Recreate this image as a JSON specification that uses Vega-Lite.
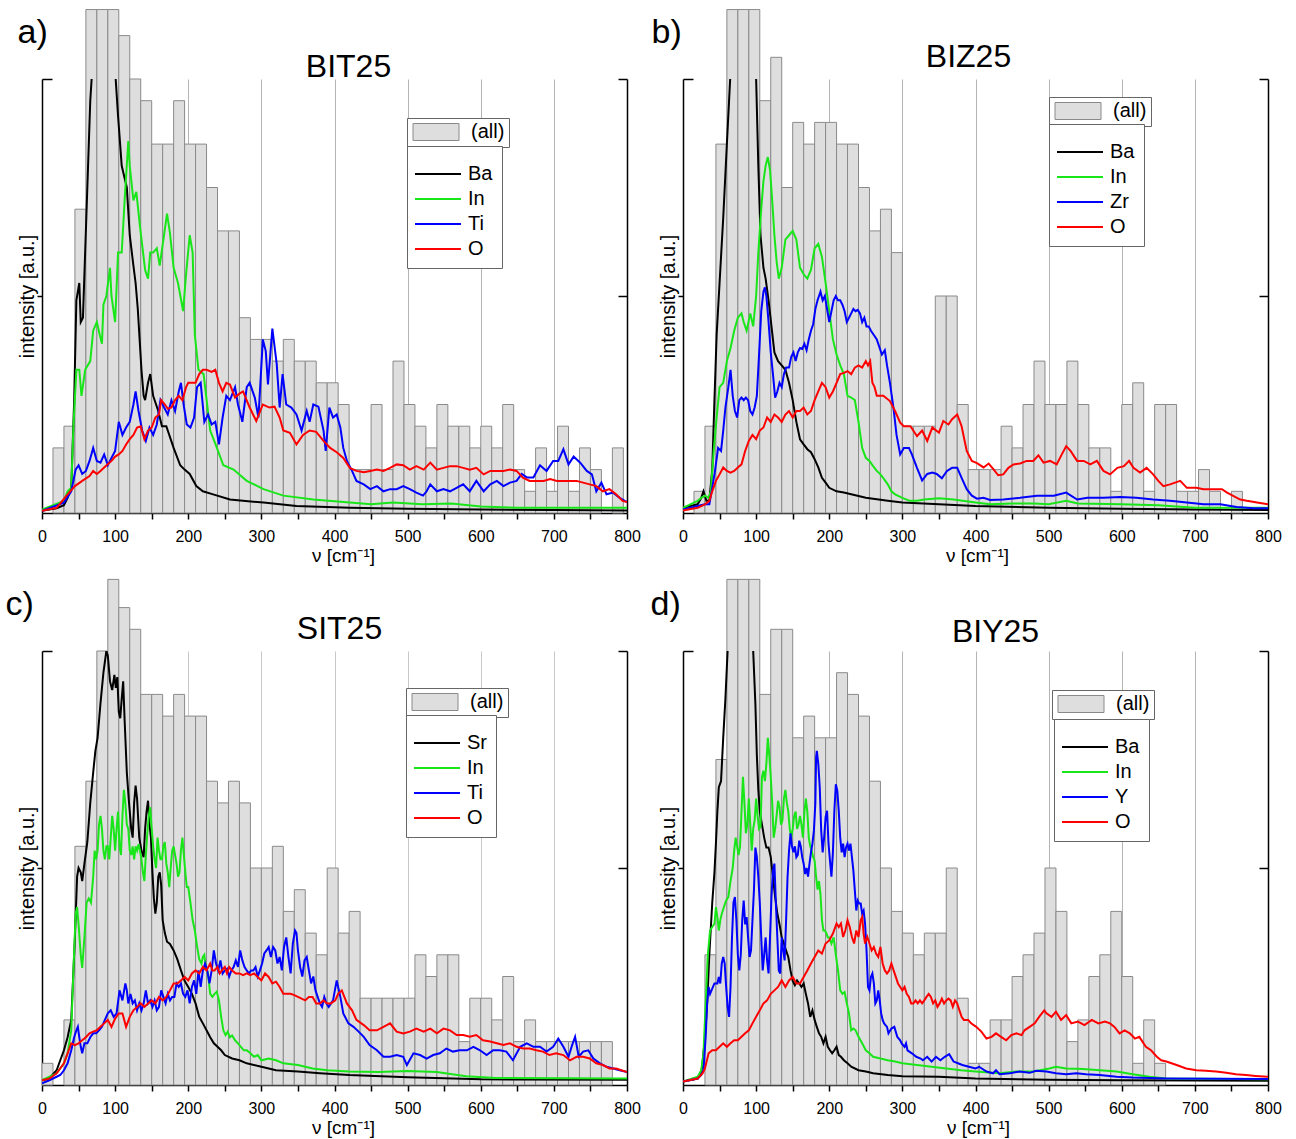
{
"$schema": "https://vega.github.io/schema/vega-lite/v6.json",
"background": "white",
"padding": {"left": 5, "top": 9, "right": 5, "bottom": 5},
"config": {"font": "Liberation Sans", "view": {"stroke": null}},
"datasets": {
"ba": [{"nu0":15,"nu1":30,"n":3},{"nu0":30,"nu1":45,"n":4},{"nu0":45,"nu1":60,"n":14},{"nu0":60,"nu1":75,"n":23.2},{"nu0":75,"nu1":90,"n":23.2},{"nu0":90,"nu1":105,"n":23.2},{"nu0":105,"nu1":120,"n":22},{"nu0":120,"nu1":135,"n":20},{"nu0":135,"nu1":150,"n":19},{"nu0":150,"nu1":165,"n":17},{"nu0":165,"nu1":180,"n":17},{"nu0":180,"nu1":195,"n":19},{"nu0":195,"nu1":210,"n":17},{"nu0":210,"nu1":225,"n":17},{"nu0":225,"nu1":240,"n":15},{"nu0":240,"nu1":255,"n":13},{"nu0":255,"nu1":270,"n":13},{"nu0":270,"nu1":285,"n":9},{"nu0":285,"nu1":300,"n":8},{"nu0":300,"nu1":315,"n":8},{"nu0":315,"nu1":330,"n":7},{"nu0":330,"nu1":345,"n":8},{"nu0":345,"nu1":360,"n":7},{"nu0":360,"nu1":375,"n":7},{"nu0":375,"nu1":390,"n":6},{"nu0":390,"nu1":405,"n":6},{"nu0":405,"nu1":420,"n":5},{"nu0":420,"nu1":435,"n":2},{"nu0":435,"nu1":450,"n":2},{"nu0":450,"nu1":465,"n":5},{"nu0":465,"nu1":480,"n":2},{"nu0":480,"nu1":495,"n":7},{"nu0":495,"nu1":510,"n":5},{"nu0":510,"nu1":525,"n":4},{"nu0":525,"nu1":540,"n":3},{"nu0":540,"nu1":555,"n":5},{"nu0":555,"nu1":570,"n":4},{"nu0":570,"nu1":585,"n":4},{"nu0":585,"nu1":600,"n":3},{"nu0":600,"nu1":615,"n":4},{"nu0":615,"nu1":630,"n":3},{"nu0":630,"nu1":645,"n":5},{"nu0":645,"nu1":660,"n":2},{"nu0":660,"nu1":675,"n":1},{"nu0":675,"nu1":690,"n":3},{"nu0":690,"nu1":705,"n":1},{"nu0":705,"nu1":720,"n":4},{"nu0":720,"nu1":735,"n":1},{"nu0":735,"nu1":750,"n":3},{"nu0":750,"nu1":765,"n":2},{"nu0":780,"nu1":795,"n":3}],
"bb": [{"nu0":15,"nu1":30,"n":1},{"nu0":30,"nu1":45,"n":4},{"nu0":45,"nu1":60,"n":17},{"nu0":60,"nu1":75,"n":23.2},{"nu0":75,"nu1":90,"n":23.2},{"nu0":90,"nu1":105,"n":23.2},{"nu0":105,"nu1":120,"n":19},{"nu0":120,"nu1":135,"n":21},{"nu0":135,"nu1":150,"n":15},{"nu0":150,"nu1":165,"n":18},{"nu0":165,"nu1":180,"n":17},{"nu0":180,"nu1":195,"n":18},{"nu0":195,"nu1":210,"n":18},{"nu0":210,"nu1":225,"n":17},{"nu0":225,"nu1":240,"n":17},{"nu0":240,"nu1":255,"n":15},{"nu0":255,"nu1":270,"n":13},{"nu0":270,"nu1":285,"n":14},{"nu0":285,"nu1":300,"n":12},{"nu0":300,"nu1":315,"n":4},{"nu0":315,"nu1":330,"n":4},{"nu0":330,"nu1":345,"n":4},{"nu0":345,"nu1":360,"n":10},{"nu0":360,"nu1":375,"n":10},{"nu0":375,"nu1":390,"n":5},{"nu0":390,"nu1":405,"n":2},{"nu0":405,"nu1":420,"n":2},{"nu0":420,"nu1":435,"n":2},{"nu0":435,"nu1":450,"n":4},{"nu0":450,"nu1":465,"n":3},{"nu0":465,"nu1":480,"n":5},{"nu0":480,"nu1":495,"n":7},{"nu0":495,"nu1":510,"n":5},{"nu0":510,"nu1":525,"n":5},{"nu0":525,"nu1":540,"n":7},{"nu0":540,"nu1":555,"n":5},{"nu0":555,"nu1":570,"n":3},{"nu0":570,"nu1":585,"n":3},{"nu0":585,"nu1":600,"n":1},{"nu0":600,"nu1":615,"n":5},{"nu0":615,"nu1":630,"n":6},{"nu0":630,"nu1":645,"n":1},{"nu0":645,"nu1":660,"n":5},{"nu0":660,"nu1":675,"n":5},{"nu0":675,"nu1":690,"n":1},{"nu0":690,"nu1":705,"n":1},{"nu0":705,"nu1":720,"n":2},{"nu0":720,"nu1":735,"n":1},{"nu0":750,"nu1":765,"n":1}],
"bc": [{"nu0":0,"nu1":15,"n":1},{"nu0":30,"nu1":45,"n":3},{"nu0":45,"nu1":60,"n":11},{"nu0":60,"nu1":75,"n":14},{"nu0":75,"nu1":90,"n":20},{"nu0":90,"nu1":105,"n":23.3},{"nu0":105,"nu1":120,"n":22},{"nu0":120,"nu1":135,"n":21},{"nu0":135,"nu1":150,"n":18},{"nu0":150,"nu1":165,"n":18},{"nu0":165,"nu1":180,"n":17},{"nu0":180,"nu1":195,"n":18},{"nu0":195,"nu1":210,"n":17},{"nu0":210,"nu1":225,"n":17},{"nu0":225,"nu1":240,"n":14},{"nu0":240,"nu1":255,"n":13},{"nu0":255,"nu1":270,"n":14},{"nu0":270,"nu1":285,"n":13},{"nu0":285,"nu1":300,"n":10},{"nu0":300,"nu1":315,"n":10},{"nu0":315,"nu1":330,"n":11},{"nu0":330,"nu1":345,"n":8},{"nu0":345,"nu1":360,"n":9},{"nu0":360,"nu1":375,"n":7},{"nu0":375,"nu1":390,"n":6},{"nu0":390,"nu1":405,"n":10},{"nu0":405,"nu1":420,"n":7},{"nu0":420,"nu1":435,"n":8},{"nu0":435,"nu1":450,"n":4},{"nu0":450,"nu1":465,"n":4},{"nu0":465,"nu1":480,"n":4},{"nu0":480,"nu1":495,"n":4},{"nu0":495,"nu1":510,"n":4},{"nu0":510,"nu1":525,"n":6},{"nu0":525,"nu1":540,"n":5},{"nu0":540,"nu1":555,"n":6},{"nu0":555,"nu1":570,"n":6},{"nu0":570,"nu1":585,"n":2},{"nu0":585,"nu1":600,"n":4},{"nu0":600,"nu1":615,"n":4},{"nu0":615,"nu1":630,"n":3},{"nu0":630,"nu1":645,"n":5},{"nu0":645,"nu1":660,"n":2},{"nu0":660,"nu1":675,"n":3},{"nu0":675,"nu1":690,"n":2},{"nu0":690,"nu1":705,"n":2},{"nu0":705,"nu1":720,"n":2},{"nu0":720,"nu1":735,"n":2},{"nu0":735,"nu1":750,"n":2},{"nu0":750,"nu1":765,"n":2},{"nu0":765,"nu1":780,"n":2}],
"bd": [{"nu0":30,"nu1":45,"n":6},{"nu0":45,"nu1":60,"n":15},{"nu0":60,"nu1":75,"n":23.3},{"nu0":75,"nu1":90,"n":23.3},{"nu0":90,"nu1":105,"n":23.3},{"nu0":105,"nu1":120,"n":18},{"nu0":120,"nu1":135,"n":21},{"nu0":135,"nu1":150,"n":21},{"nu0":150,"nu1":165,"n":16},{"nu0":165,"nu1":180,"n":17},{"nu0":180,"nu1":195,"n":16},{"nu0":195,"nu1":210,"n":16},{"nu0":210,"nu1":225,"n":19},{"nu0":225,"nu1":240,"n":18},{"nu0":240,"nu1":255,"n":17},{"nu0":255,"nu1":270,"n":14},{"nu0":270,"nu1":285,"n":10},{"nu0":285,"nu1":300,"n":8},{"nu0":300,"nu1":315,"n":7},{"nu0":315,"nu1":330,"n":6},{"nu0":330,"nu1":345,"n":7},{"nu0":345,"nu1":360,"n":7},{"nu0":360,"nu1":375,"n":10},{"nu0":375,"nu1":390,"n":4},{"nu0":390,"nu1":405,"n":1},{"nu0":405,"nu1":420,"n":1},{"nu0":420,"nu1":435,"n":3},{"nu0":435,"nu1":450,"n":3},{"nu0":450,"nu1":465,"n":5},{"nu0":465,"nu1":480,"n":6},{"nu0":480,"nu1":495,"n":7},{"nu0":495,"nu1":510,"n":10},{"nu0":510,"nu1":525,"n":8},{"nu0":525,"nu1":540,"n":2},{"nu0":540,"nu1":555,"n":3},{"nu0":555,"nu1":570,"n":5},{"nu0":570,"nu1":585,"n":6},{"nu0":585,"nu1":600,"n":8},{"nu0":600,"nu1":615,"n":5},{"nu0":615,"nu1":630,"n":1},{"nu0":630,"nu1":645,"n":3},{"nu0":645,"nu1":660,"n":1}],
"la": [
{"el":"Ba","nu":0,"i":0.005},{"el":"Ba","nu":20,"i":0.011},{"el":"Ba","nu":30,"i":0.018},{"el":"Ba","nu":35,"i":0.035},{"el":"Ba","nu":40,"i":0.058},{"el":"Ba","nu":44,"i":0.26},{"el":"Ba","nu":47,"i":0.49},{"el":"Ba","nu":51,"i":0.53},{"el":"Ba","nu":53,"i":0.44},{"el":"Ba","nu":56,"i":0.45},{"el":"Ba","nu":59,"i":0.6},{"el":"Ba","nu":63,"i":0.8},{"el":"Ba","nu":66,"i":0.95},{"el":"Ba","nu":69,"i":1.03},{"el":"Ba","nu":80,"i":1.4},{"el":"Ba","nu":92,"i":1.3},{"el":"Ba","nu":100,"i":1.02},{"el":"Ba","nu":104,"i":0.915},{"el":"Ba","nu":109,"i":0.8},{"el":"Ba","nu":116,"i":0.75},{"el":"Ba","nu":120,"i":0.64},{"el":"Ba","nu":125,"i":0.57},{"el":"Ba","nu":128,"i":0.53},{"el":"Ba","nu":131,"i":0.47},{"el":"Ba","nu":136,"i":0.33},{"el":"Ba","nu":139,"i":0.27},{"el":"Ba","nu":141,"i":0.26},{"el":"Ba","nu":145,"i":0.3},{"el":"Ba","nu":148,"i":0.32},{"el":"Ba","nu":152,"i":0.27},{"el":"Ba","nu":159,"i":0.235},{"el":"Ba","nu":164,"i":0.2},{"el":"Ba","nu":170,"i":0.2},{"el":"Ba","nu":180,"i":0.15},{"el":"Ba","nu":189,"i":0.11},{"el":"Ba","nu":195,"i":0.1},{"el":"Ba","nu":202,"i":0.09},{"el":"Ba","nu":211,"i":0.062},{"el":"Ba","nu":220,"i":0.05},{"el":"Ba","nu":234,"i":0.043},{"el":"Ba","nu":257,"i":0.031},{"el":"Ba","nu":303,"i":0.024},{"el":"Ba","nu":348,"i":0.016},{"el":"Ba","nu":421,"i":0.012},{"el":"Ba","nu":500,"i":0.01},{"el":"Ba","nu":600,"i":0.008},{"el":"Ba","nu":700,"i":0.007},{"el":"Ba","nu":800,"i":0.006},
{"el":"In","nu":0,"i":0.008},{"el":"In","nu":30,"i":0.028},{"el":"In","nu":35,"i":0.05},{"el":"In","nu":40,"i":0.058},{"el":"In","nu":43,"i":0.2},{"el":"In","nu":47,"i":0.33},{"el":"In","nu":51,"i":0.33},{"el":"In","nu":54,"i":0.27},{"el":"In","nu":59,"i":0.33},{"el":"In","nu":66,"i":0.35},{"el":"In","nu":70,"i":0.42},{"el":"In","nu":75,"i":0.44},{"el":"In","nu":79,"i":0.41},{"el":"In","nu":82,"i":0.39},{"el":"In","nu":84,"i":0.48},{"el":"In","nu":88,"i":0.5},{"el":"In","nu":93,"i":0.565},{"el":"In","nu":95,"i":0.5},{"el":"In","nu":100,"i":0.44},{"el":"In","nu":104,"i":0.6},{"el":"In","nu":109,"i":0.6},{"el":"In","nu":113,"i":0.72},{"el":"In","nu":118,"i":0.857},{"el":"In","nu":120,"i":0.8},{"el":"In","nu":125,"i":0.72},{"el":"In","nu":129,"i":0.74},{"el":"In","nu":134,"i":0.66},{"el":"In","nu":141,"i":0.56},{"el":"In","nu":145,"i":0.54},{"el":"In","nu":148,"i":0.6},{"el":"In","nu":152,"i":0.6},{"el":"In","nu":157,"i":0.61},{"el":"In","nu":161,"i":0.57},{"el":"In","nu":166,"i":0.63},{"el":"In","nu":171,"i":0.69},{"el":"In","nu":175,"i":0.645},{"el":"In","nu":180,"i":0.565},{"el":"In","nu":186,"i":0.53},{"el":"In","nu":193,"i":0.465},{"el":"In","nu":197,"i":0.55},{"el":"In","nu":202,"i":0.64},{"el":"In","nu":206,"i":0.6},{"el":"In","nu":209,"i":0.41},{"el":"In","nu":214,"i":0.33},{"el":"In","nu":221,"i":0.32},{"el":"In","nu":230,"i":0.19},{"el":"In","nu":237,"i":0.16},{"el":"In","nu":248,"i":0.11},{"el":"In","nu":262,"i":0.1},{"el":"In","nu":280,"i":0.074},{"el":"In","nu":303,"i":0.055},{"el":"In","nu":330,"i":0.04},{"el":"In","nu":371,"i":0.031},{"el":"In","nu":421,"i":0.024},{"el":"In","nu":450,"i":0.02},{"el":"In","nu":480,"i":0.024},{"el":"In","nu":520,"i":0.02},{"el":"In","nu":560,"i":0.022},{"el":"In","nu":600,"i":0.015},{"el":"In","nu":650,"i":0.012},{"el":"In","nu":800,"i":0.012},
{"el":"Ti","nu":0,"i":0.005},{"el":"Ti","nu":30,"i":0.024},{"el":"Ti","nu":40,"i":0.05},{"el":"Ti","nu":46,"i":0.1},{"el":"Ti","nu":50,"i":0.11},{"el":"Ti","nu":55,"i":0.09},{"el":"Ti","nu":60,"i":0.097},{"el":"Ti","nu":65,"i":0.12},{"el":"Ti","nu":70,"i":0.15},{"el":"Ti","nu":75,"i":0.12},{"el":"Ti","nu":80,"i":0.116},{"el":"Ti","nu":85,"i":0.135},{"el":"Ti","nu":90,"i":0.11},{"el":"Ti","nu":95,"i":0.127},{"el":"Ti","nu":100,"i":0.143},{"el":"Ti","nu":105,"i":0.21},{"el":"Ti","nu":110,"i":0.18},{"el":"Ti","nu":115,"i":0.197},{"el":"Ti","nu":120,"i":0.21},{"el":"Ti","nu":125,"i":0.25},{"el":"Ti","nu":128,"i":0.28},{"el":"Ti","nu":132,"i":0.235},{"el":"Ti","nu":137,"i":0.19},{"el":"Ti","nu":142,"i":0.166},{"el":"Ti","nu":147,"i":0.197},{"el":"Ti","nu":152,"i":0.18},{"el":"Ti","nu":157,"i":0.204},{"el":"Ti","nu":162,"i":0.26},{"el":"Ti","nu":167,"i":0.243},{"el":"Ti","nu":172,"i":0.227},{"el":"Ti","nu":177,"i":0.26},{"el":"Ti","nu":182,"i":0.235},{"el":"Ti","nu":187,"i":0.28},{"el":"Ti","nu":190,"i":0.3},{"el":"Ti","nu":194,"i":0.246},{"el":"Ti","nu":198,"i":0.204},{"el":"Ti","nu":203,"i":0.197},{"el":"Ti","nu":208,"i":0.22},{"el":"Ti","nu":212,"i":0.29},{"el":"Ti","nu":217,"i":0.3},{"el":"Ti","nu":222,"i":0.21},{"el":"Ti","nu":227,"i":0.227},{"el":"Ti","nu":232,"i":0.204},{"el":"Ti","nu":237,"i":0.21},{"el":"Ti","nu":242,"i":0.158},{"el":"Ti","nu":247,"i":0.22},{"el":"Ti","nu":252,"i":0.27},{"el":"Ti","nu":257,"i":0.26},{"el":"Ti","nu":264,"i":0.29},{"el":"Ti","nu":268,"i":0.25},{"el":"Ti","nu":274,"i":0.21},{"el":"Ti","nu":280,"i":0.29},{"el":"Ti","nu":284,"i":0.3},{"el":"Ti","nu":291,"i":0.266},{"el":"Ti","nu":296,"i":0.22},{"el":"Ti","nu":302,"i":0.4},{"el":"Ti","nu":306,"i":0.373},{"el":"Ti","nu":309,"i":0.296},{"el":"Ti","nu":315,"i":0.425},{"el":"Ti","nu":321,"i":0.343},{"el":"Ti","nu":325,"i":0.243},{"el":"Ti","nu":329,"i":0.32},{"el":"Ti","nu":334,"i":0.25},{"el":"Ti","nu":341,"i":0.243},{"el":"Ti","nu":348,"i":0.227},{"el":"Ti","nu":355,"i":0.19},{"el":"Ti","nu":362,"i":0.235},{"el":"Ti","nu":366,"i":0.21},{"el":"Ti","nu":371,"i":0.25},{"el":"Ti","nu":378,"i":0.245},{"el":"Ti","nu":385,"i":0.19},{"el":"Ti","nu":388,"i":0.143},{"el":"Ti","nu":393,"i":0.243},{"el":"Ti","nu":398,"i":0.22},{"el":"Ti","nu":403,"i":0.227},{"el":"Ti","nu":408,"i":0.197},{"el":"Ti","nu":412,"i":0.15},{"el":"Ti","nu":417,"i":0.12},{"el":"Ti","nu":424,"i":0.097},{"el":"Ti","nu":430,"i":0.074},{"el":"Ti","nu":440,"i":0.066},{"el":"Ti","nu":449,"i":0.055},{"el":"Ti","nu":458,"i":0.062},{"el":"Ti","nu":467,"i":0.05},{"el":"Ti","nu":476,"i":0.055},{"el":"Ti","nu":485,"i":0.055},{"el":"Ti","nu":494,"i":0.062},{"el":"Ti","nu":503,"i":0.055},{"el":"Ti","nu":512,"i":0.047},{"el":"Ti","nu":521,"i":0.04},{"el":"Ti","nu":526,"i":0.05},{"el":"Ti","nu":531,"i":0.066},{"el":"Ti","nu":540,"i":0.05},{"el":"Ti","nu":549,"i":0.055},{"el":"Ti","nu":558,"i":0.05},{"el":"Ti","nu":567,"i":0.058},{"el":"Ti","nu":576,"i":0.066},{"el":"Ti","nu":585,"i":0.05},{"el":"Ti","nu":594,"i":0.074},{"el":"Ti","nu":604,"i":0.05},{"el":"Ti","nu":613,"i":0.066},{"el":"Ti","nu":622,"i":0.074},{"el":"Ti","nu":631,"i":0.062},{"el":"Ti","nu":640,"i":0.07},{"el":"Ti","nu":649,"i":0.074},{"el":"Ti","nu":656,"i":0.09},{"el":"Ti","nu":663,"i":0.082},{"el":"Ti","nu":672,"i":0.082},{"el":"Ti","nu":681,"i":0.11},{"el":"Ti","nu":690,"i":0.097},{"el":"Ti","nu":699,"i":0.12},{"el":"Ti","nu":706,"i":0.12},{"el":"Ti","nu":713,"i":0.147},{"el":"Ti","nu":720,"i":0.112},{"el":"Ti","nu":727,"i":0.13},{"el":"Ti","nu":736,"i":0.116},{"el":"Ti","nu":745,"i":0.097},{"el":"Ti","nu":752,"i":0.089},{"el":"Ti","nu":758,"i":0.05},{"el":"Ti","nu":765,"i":0.07},{"el":"Ti","nu":772,"i":0.043},{"el":"Ti","nu":781,"i":0.047},{"el":"Ti","nu":790,"i":0.035},{"el":"Ti","nu":797,"i":0.028},{"el":"Ti","nu":800,"i":0.026},
{"el":"O","nu":0,"i":0.005},{"el":"O","nu":20,"i":0.012},{"el":"O","nu":35,"i":0.043},{"el":"O","nu":45,"i":0.062},{"el":"O","nu":55,"i":0.074},{"el":"O","nu":65,"i":0.085},{"el":"O","nu":70,"i":0.097},{"el":"O","nu":75,"i":0.09},{"el":"O","nu":80,"i":0.097},{"el":"O","nu":85,"i":0.105},{"el":"O","nu":95,"i":0.12},{"el":"O","nu":100,"i":0.13},{"el":"O","nu":105,"i":0.135},{"el":"O","nu":110,"i":0.143},{"el":"O","nu":115,"i":0.158},{"el":"O","nu":120,"i":0.17},{"el":"O","nu":125,"i":0.18},{"el":"O","nu":130,"i":0.197},{"el":"O","nu":135,"i":0.2},{"el":"O","nu":140,"i":0.17},{"el":"O","nu":145,"i":0.19},{"el":"O","nu":150,"i":0.197},{"el":"O","nu":155,"i":0.22},{"el":"O","nu":160,"i":0.227},{"el":"O","nu":163,"i":0.26},{"el":"O","nu":168,"i":0.25},{"el":"O","nu":172,"i":0.24},{"el":"O","nu":177,"i":0.243},{"el":"O","nu":182,"i":0.26},{"el":"O","nu":187,"i":0.27},{"el":"O","nu":192,"i":0.26},{"el":"O","nu":197,"i":0.29},{"el":"O","nu":200,"i":0.3},{"el":"O","nu":205,"i":0.3},{"el":"O","nu":210,"i":0.3},{"el":"O","nu":215,"i":0.32},{"el":"O","nu":220,"i":0.33},{"el":"O","nu":225,"i":0.33},{"el":"O","nu":232,"i":0.325},{"el":"O","nu":237,"i":0.33},{"el":"O","nu":242,"i":0.3},{"el":"O","nu":247,"i":0.28},{"el":"O","nu":252,"i":0.3},{"el":"O","nu":257,"i":0.296},{"el":"O","nu":264,"i":0.266},{"el":"O","nu":270,"i":0.275},{"el":"O","nu":275,"i":0.28},{"el":"O","nu":284,"i":0.243},{"el":"O","nu":293,"i":0.212},{"el":"O","nu":302,"i":0.25},{"el":"O","nu":311,"i":0.243},{"el":"O","nu":318,"i":0.245},{"el":"O","nu":325,"i":0.22},{"el":"O","nu":330,"i":0.19},{"el":"O","nu":339,"i":0.185},{"el":"O","nu":348,"i":0.158},{"el":"O","nu":357,"i":0.18},{"el":"O","nu":366,"i":0.19},{"el":"O","nu":375,"i":0.187},{"el":"O","nu":385,"i":0.166},{"el":"O","nu":394,"i":0.15},{"el":"O","nu":403,"i":0.14},{"el":"O","nu":412,"i":0.127},{"el":"O","nu":421,"i":0.104},{"el":"O","nu":430,"i":0.097},{"el":"O","nu":440,"i":0.094},{"el":"O","nu":449,"i":0.097},{"el":"O","nu":458,"i":0.1},{"el":"O","nu":467,"i":0.097},{"el":"O","nu":476,"i":0.104},{"el":"O","nu":485,"i":0.112},{"el":"O","nu":494,"i":0.11},{"el":"O","nu":503,"i":0.1},{"el":"O","nu":512,"i":0.108},{"el":"O","nu":522,"i":0.1},{"el":"O","nu":531,"i":0.116},{"el":"O","nu":540,"i":0.1},{"el":"O","nu":549,"i":0.104},{"el":"O","nu":558,"i":0.108},{"el":"O","nu":567,"i":0.108},{"el":"O","nu":576,"i":0.104},{"el":"O","nu":585,"i":0.1},{"el":"O","nu":594,"i":0.104},{"el":"O","nu":604,"i":0.089},{"el":"O","nu":613,"i":0.097},{"el":"O","nu":622,"i":0.097},{"el":"O","nu":631,"i":0.097},{"el":"O","nu":640,"i":0.1},{"el":"O","nu":649,"i":0.097},{"el":"O","nu":658,"i":0.081},{"el":"O","nu":667,"i":0.074},{"el":"O","nu":676,"i":0.074},{"el":"O","nu":686,"i":0.074},{"el":"O","nu":695,"i":0.078},{"el":"O","nu":704,"i":0.074},{"el":"O","nu":713,"i":0.074},{"el":"O","nu":722,"i":0.074},{"el":"O","nu":731,"i":0.074},{"el":"O","nu":740,"i":0.07},{"el":"O","nu":749,"i":0.066},{"el":"O","nu":758,"i":0.062},{"el":"O","nu":767,"i":0.05},{"el":"O","nu":776,"i":0.055},{"el":"O","nu":785,"i":0.043},{"el":"O","nu":794,"i":0.028},{"el":"O","nu":800,"i":0.025}
],
"lb": [
{"el":"Ba","nu":0,"i":0.012},{"el":"Ba","nu":20,"i":0.02},{"el":"Ba","nu":25,"i":0.035},{"el":"Ba","nu":28,"i":0.05},{"el":"Ba","nu":32,"i":0.028},{"el":"Ba","nu":36,"i":0.028},{"el":"Ba","nu":40,"i":0.1},{"el":"Ba","nu":43,"i":0.26},{"el":"Ba","nu":46,"i":0.41},{"el":"Ba","nu":50,"i":0.53},{"el":"Ba","nu":55,"i":0.68},{"el":"Ba","nu":60,"i":0.85},{"el":"Ba","nu":63,"i":0.95},{"el":"Ba","nu":66,"i":1.05},{"el":"Ba","nu":80,"i":1.5},{"el":"Ba","nu":95,"i":1.3},{"el":"Ba","nu":100,"i":1.0},{"el":"Ba","nu":103,"i":0.8},{"el":"Ba","nu":106,"i":0.64},{"el":"Ba","nu":110,"i":0.565},{"el":"Ba","nu":113,"i":0.54},{"el":"Ba","nu":117,"i":0.49},{"el":"Ba","nu":121,"i":0.43},{"el":"Ba","nu":125,"i":0.37},{"el":"Ba","nu":130,"i":0.35},{"el":"Ba","nu":135,"i":0.34},{"el":"Ba","nu":140,"i":0.33},{"el":"Ba","nu":145,"i":0.3},{"el":"Ba","nu":150,"i":0.26},{"el":"Ba","nu":155,"i":0.21},{"el":"Ba","nu":160,"i":0.17},{"el":"Ba","nu":165,"i":0.158},{"el":"Ba","nu":170,"i":0.147},{"el":"Ba","nu":175,"i":0.14},{"el":"Ba","nu":180,"i":0.124},{"el":"Ba","nu":185,"i":0.105},{"el":"Ba","nu":190,"i":0.081},{"el":"Ba","nu":195,"i":0.07},{"el":"Ba","nu":200,"i":0.058},{"el":"Ba","nu":210,"i":0.05},{"el":"Ba","nu":220,"i":0.047},{"el":"Ba","nu":230,"i":0.043},{"el":"Ba","nu":250,"i":0.035},{"el":"Ba","nu":280,"i":0.028},{"el":"Ba","nu":300,"i":0.024},{"el":"Ba","nu":350,"i":0.02},{"el":"Ba","nu":400,"i":0.016},{"el":"Ba","nu":500,"i":0.012},{"el":"Ba","nu":600,"i":0.01},{"el":"Ba","nu":700,"i":0.008},{"el":"Ba","nu":800,"i":0.007},
{"el":"In","nu":0,"i":0.012},{"el":"In","nu":20,"i":0.028},{"el":"In","nu":25,"i":0.035},{"el":"In","nu":30,"i":0.04},{"el":"In","nu":35,"i":0.035},{"el":"In","nu":38,"i":0.05},{"el":"In","nu":42,"i":0.143},{"el":"In","nu":46,"i":0.22},{"el":"In","nu":50,"i":0.29},{"el":"In","nu":55,"i":0.3},{"el":"In","nu":60,"i":0.35},{"el":"In","nu":65,"i":0.38},{"el":"In","nu":70,"i":0.42},{"el":"In","nu":75,"i":0.45},{"el":"In","nu":80,"i":0.46},{"el":"In","nu":83,"i":0.44},{"el":"In","nu":87,"i":0.42},{"el":"In","nu":92,"i":0.46},{"el":"In","nu":96,"i":0.43},{"el":"In","nu":100,"i":0.5},{"el":"In","nu":103,"i":0.6},{"el":"In","nu":107,"i":0.7},{"el":"In","nu":110,"i":0.765},{"el":"In","nu":113,"i":0.8},{"el":"In","nu":116,"i":0.82},{"el":"In","nu":119,"i":0.79},{"el":"In","nu":122,"i":0.72},{"el":"In","nu":125,"i":0.64},{"el":"In","nu":128,"i":0.58},{"el":"In","nu":131,"i":0.54},{"el":"In","nu":135,"i":0.565},{"el":"In","nu":140,"i":0.63},{"el":"In","nu":145,"i":0.64},{"el":"In","nu":150,"i":0.65},{"el":"In","nu":155,"i":0.63},{"el":"In","nu":160,"i":0.565},{"el":"In","nu":165,"i":0.55},{"el":"In","nu":170,"i":0.54},{"el":"In","nu":175,"i":0.56},{"el":"In","nu":180,"i":0.61},{"el":"In","nu":185,"i":0.62},{"el":"In","nu":190,"i":0.59},{"el":"In","nu":195,"i":0.53},{"el":"In","nu":200,"i":0.465},{"el":"In","nu":205,"i":0.4},{"el":"In","nu":210,"i":0.365},{"el":"In","nu":215,"i":0.34},{"el":"In","nu":220,"i":0.32},{"el":"In","nu":225,"i":0.27},{"el":"In","nu":230,"i":0.266},{"el":"In","nu":235,"i":0.26},{"el":"In","nu":240,"i":0.21},{"el":"In","nu":245,"i":0.15},{"el":"In","nu":250,"i":0.127},{"el":"In","nu":255,"i":0.12},{"el":"In","nu":260,"i":0.108},{"el":"In","nu":265,"i":0.097},{"el":"In","nu":270,"i":0.089},{"el":"In","nu":275,"i":0.078},{"el":"In","nu":280,"i":0.066},{"el":"In","nu":285,"i":0.05},{"el":"In","nu":290,"i":0.043},{"el":"In","nu":300,"i":0.035},{"el":"In","nu":310,"i":0.028},{"el":"In","nu":320,"i":0.028},{"el":"In","nu":330,"i":0.031},{"el":"In","nu":350,"i":0.034},{"el":"In","nu":370,"i":0.031},{"el":"In","nu":400,"i":0.024},{"el":"In","nu":420,"i":0.02},{"el":"In","nu":450,"i":0.022},{"el":"In","nu":480,"i":0.022},{"el":"In","nu":500,"i":0.02},{"el":"In","nu":524,"i":0.028},{"el":"In","nu":540,"i":0.022},{"el":"In","nu":600,"i":0.02},{"el":"In","nu":650,"i":0.018},{"el":"In","nu":700,"i":0.012},{"el":"In","nu":800,"i":0.012},
{"el":"Zr","nu":0,"i":0.008},{"el":"Zr","nu":20,"i":0.016},{"el":"Zr","nu":30,"i":0.02},{"el":"Zr","nu":36,"i":0.02},{"el":"Zr","nu":40,"i":0.058},{"el":"Zr","nu":44,"i":0.1},{"el":"Zr","nu":48,"i":0.15},{"el":"Zr","nu":52,"i":0.143},{"el":"Zr","nu":55,"i":0.19},{"el":"Zr","nu":58,"i":0.243},{"el":"Zr","nu":62,"i":0.29},{"el":"Zr","nu":65,"i":0.33},{"el":"Zr","nu":68,"i":0.27},{"el":"Zr","nu":71,"i":0.235},{"el":"Zr","nu":74,"i":0.22},{"el":"Zr","nu":77,"i":0.26},{"el":"Zr","nu":80,"i":0.266},{"el":"Zr","nu":83,"i":0.26},{"el":"Zr","nu":86,"i":0.266},{"el":"Zr","nu":89,"i":0.26},{"el":"Zr","nu":92,"i":0.235},{"el":"Zr","nu":95,"i":0.227},{"el":"Zr","nu":98,"i":0.243},{"el":"Zr","nu":101,"i":0.27},{"el":"Zr","nu":104,"i":0.365},{"el":"Zr","nu":107,"i":0.465},{"el":"Zr","nu":110,"i":0.51},{"el":"Zr","nu":112,"i":0.52},{"el":"Zr","nu":114,"i":0.5},{"el":"Zr","nu":117,"i":0.44},{"el":"Zr","nu":120,"i":0.37},{"el":"Zr","nu":123,"i":0.32},{"el":"Zr","nu":126,"i":0.266},{"el":"Zr","nu":129,"i":0.28},{"el":"Zr","nu":132,"i":0.3},{"el":"Zr","nu":135,"i":0.29},{"el":"Zr","nu":138,"i":0.32},{"el":"Zr","nu":141,"i":0.335},{"el":"Zr","nu":145,"i":0.335},{"el":"Zr","nu":148,"i":0.36},{"el":"Zr","nu":151,"i":0.37},{"el":"Zr","nu":154,"i":0.35},{"el":"Zr","nu":157,"i":0.37},{"el":"Zr","nu":160,"i":0.38},{"el":"Zr","nu":163,"i":0.378},{"el":"Zr","nu":166,"i":0.39},{"el":"Zr","nu":169,"i":0.375},{"el":"Zr","nu":172,"i":0.4},{"el":"Zr","nu":175,"i":0.42},{"el":"Zr","nu":178,"i":0.435},{"el":"Zr","nu":181,"i":0.47},{"el":"Zr","nu":184,"i":0.49},{"el":"Zr","nu":186,"i":0.5},{"el":"Zr","nu":188,"i":0.51},{"el":"Zr","nu":191,"i":0.49},{"el":"Zr","nu":194,"i":0.5},{"el":"Zr","nu":197,"i":0.47},{"el":"Zr","nu":200,"i":0.44},{"el":"Zr","nu":203,"i":0.465},{"el":"Zr","nu":206,"i":0.49},{"el":"Zr","nu":209,"i":0.5},{"el":"Zr","nu":212,"i":0.49},{"el":"Zr","nu":215,"i":0.49},{"el":"Zr","nu":218,"i":0.48},{"el":"Zr","nu":221,"i":0.465},{"el":"Zr","nu":224,"i":0.44},{"el":"Zr","nu":227,"i":0.45},{"el":"Zr","nu":230,"i":0.46},{"el":"Zr","nu":233,"i":0.47},{"el":"Zr","nu":236,"i":0.465},{"el":"Zr","nu":239,"i":0.468},{"el":"Zr","nu":242,"i":0.46},{"el":"Zr","nu":245,"i":0.44},{"el":"Zr","nu":248,"i":0.45},{"el":"Zr","nu":251,"i":0.43},{"el":"Zr","nu":254,"i":0.43},{"el":"Zr","nu":257,"i":0.42},{"el":"Zr","nu":261,"i":0.41},{"el":"Zr","nu":265,"i":0.4},{"el":"Zr","nu":272,"i":0.365},{"el":"Zr","nu":276,"i":0.375},{"el":"Zr","nu":279,"i":0.34},{"el":"Zr","nu":283,"i":0.3},{"el":"Zr","nu":288,"i":0.24},{"el":"Zr","nu":292,"i":0.18},{"el":"Zr","nu":297,"i":0.135},{"el":"Zr","nu":302,"i":0.15},{"el":"Zr","nu":309,"i":0.15},{"el":"Zr","nu":313,"i":0.135},{"el":"Zr","nu":320,"i":0.104},{"el":"Zr","nu":327,"i":0.075},{"el":"Zr","nu":334,"i":0.09},{"el":"Zr","nu":341,"i":0.093},{"el":"Zr","nu":347,"i":0.09},{"el":"Zr","nu":354,"i":0.08},{"el":"Zr","nu":361,"i":0.097},{"el":"Zr","nu":368,"i":0.104},{"el":"Zr","nu":375,"i":0.104},{"el":"Zr","nu":381,"i":0.081},{"el":"Zr","nu":388,"i":0.055},{"el":"Zr","nu":395,"i":0.04},{"el":"Zr","nu":402,"i":0.033},{"el":"Zr","nu":411,"i":0.035},{"el":"Zr","nu":420,"i":0.03},{"el":"Zr","nu":438,"i":0.031},{"el":"Zr","nu":461,"i":0.035},{"el":"Zr","nu":484,"i":0.04},{"el":"Zr","nu":507,"i":0.04},{"el":"Zr","nu":524,"i":0.047},{"el":"Zr","nu":539,"i":0.031},{"el":"Zr","nu":553,"i":0.035},{"el":"Zr","nu":575,"i":0.035},{"el":"Zr","nu":598,"i":0.037},{"el":"Zr","nu":620,"i":0.035},{"el":"Zr","nu":643,"i":0.031},{"el":"Zr","nu":666,"i":0.028},{"el":"Zr","nu":689,"i":0.024},{"el":"Zr","nu":712,"i":0.02},{"el":"Zr","nu":735,"i":0.02},{"el":"Zr","nu":757,"i":0.014},{"el":"Zr","nu":780,"i":0.011},{"el":"Zr","nu":800,"i":0.011},
{"el":"O","nu":0,"i":0.006},{"el":"O","nu":20,"i":0.012},{"el":"O","nu":30,"i":0.02},{"el":"O","nu":36,"i":0.028},{"el":"O","nu":40,"i":0.05},{"el":"O","nu":45,"i":0.074},{"el":"O","nu":50,"i":0.089},{"el":"O","nu":55,"i":0.105},{"el":"O","nu":60,"i":0.097},{"el":"O","nu":65,"i":0.093},{"el":"O","nu":70,"i":0.097},{"el":"O","nu":75,"i":0.105},{"el":"O","nu":80,"i":0.112},{"el":"O","nu":85,"i":0.143},{"el":"O","nu":90,"i":0.166},{"el":"O","nu":95,"i":0.18},{"el":"O","nu":100,"i":0.17},{"el":"O","nu":105,"i":0.19},{"el":"O","nu":110,"i":0.197},{"el":"O","nu":115,"i":0.22},{"el":"O","nu":120,"i":0.21},{"el":"O","nu":125,"i":0.227},{"el":"O","nu":130,"i":0.22},{"el":"O","nu":135,"i":0.21},{"el":"O","nu":140,"i":0.227},{"el":"O","nu":145,"i":0.235},{"el":"O","nu":150,"i":0.22},{"el":"O","nu":155,"i":0.235},{"el":"O","nu":160,"i":0.235},{"el":"O","nu":165,"i":0.243},{"el":"O","nu":170,"i":0.227},{"el":"O","nu":175,"i":0.235},{"el":"O","nu":180,"i":0.26},{"el":"O","nu":185,"i":0.28},{"el":"O","nu":190,"i":0.3},{"el":"O","nu":195,"i":0.29},{"el":"O","nu":200,"i":0.266},{"el":"O","nu":205,"i":0.28},{"el":"O","nu":210,"i":0.3},{"el":"O","nu":215,"i":0.32},{"el":"O","nu":220,"i":0.323},{"el":"O","nu":225,"i":0.327},{"el":"O","nu":230,"i":0.32},{"el":"O","nu":235,"i":0.335},{"el":"O","nu":240,"i":0.34},{"el":"O","nu":245,"i":0.335},{"el":"O","nu":250,"i":0.35},{"el":"O","nu":253,"i":0.34},{"el":"O","nu":256,"i":0.35},{"el":"O","nu":259,"i":0.3},{"el":"O","nu":262,"i":0.29},{"el":"O","nu":265,"i":0.27},{"el":"O","nu":270,"i":0.27},{"el":"O","nu":274,"i":0.27},{"el":"O","nu":283,"i":0.258},{"el":"O","nu":290,"i":0.235},{"el":"O","nu":297,"i":0.208},{"el":"O","nu":302,"i":0.2},{"el":"O","nu":311,"i":0.2},{"el":"O","nu":320,"i":0.177},{"el":"O","nu":327,"i":0.19},{"el":"O","nu":334,"i":0.166},{"el":"O","nu":341,"i":0.197},{"el":"O","nu":350,"i":0.185},{"el":"O","nu":356,"i":0.212},{"el":"O","nu":363,"i":0.204},{"el":"O","nu":368,"i":0.216},{"el":"O","nu":375,"i":0.227},{"el":"O","nu":381,"i":0.2},{"el":"O","nu":388,"i":0.143},{"el":"O","nu":395,"i":0.12},{"el":"O","nu":402,"i":0.115},{"el":"O","nu":411,"i":0.105},{"el":"O","nu":418,"i":0.114},{"el":"O","nu":425,"i":0.1},{"el":"O","nu":431,"i":0.087},{"el":"O","nu":438,"i":0.089},{"el":"O","nu":445,"i":0.104},{"el":"O","nu":452,"i":0.112},{"el":"O","nu":461,"i":0.114},{"el":"O","nu":470,"i":0.12},{"el":"O","nu":479,"i":0.12},{"el":"O","nu":486,"i":0.133},{"el":"O","nu":493,"i":0.116},{"el":"O","nu":502,"i":0.12},{"el":"O","nu":511,"i":0.112},{"el":"O","nu":518,"i":0.135},{"el":"O","nu":524,"i":0.154},{"el":"O","nu":530,"i":0.143},{"el":"O","nu":539,"i":0.12},{"el":"O","nu":548,"i":0.12},{"el":"O","nu":557,"i":0.112},{"el":"O","nu":566,"i":0.12},{"el":"O","nu":575,"i":0.097},{"el":"O","nu":584,"i":0.089},{"el":"O","nu":594,"i":0.104},{"el":"O","nu":603,"i":0.108},{"el":"O","nu":610,"i":0.12},{"el":"O","nu":616,"i":0.104},{"el":"O","nu":625,"i":0.093},{"el":"O","nu":634,"i":0.104},{"el":"O","nu":643,"i":0.089},{"el":"O","nu":650,"i":0.074},{"el":"O","nu":657,"i":0.062},{"el":"O","nu":666,"i":0.066},{"el":"O","nu":680,"i":0.074},{"el":"O","nu":689,"i":0.058},{"el":"O","nu":702,"i":0.058},{"el":"O","nu":712,"i":0.055},{"el":"O","nu":726,"i":0.055},{"el":"O","nu":737,"i":0.055},{"el":"O","nu":744,"i":0.047},{"el":"O","nu":753,"i":0.039},{"el":"O","nu":762,"i":0.031},{"el":"O","nu":771,"i":0.028},{"el":"O","nu":785,"i":0.024},{"el":"O","nu":800,"i":0.02}
],
"lc": [
{"el":"Sr","nu":0,"i":0.011},{"el":"Sr","nu":10,"i":0.015},{"el":"Sr","nu":20,"i":0.034},{"el":"Sr","nu":25,"i":0.057},{"el":"Sr","nu":30,"i":0.08},{"el":"Sr","nu":35,"i":0.11},{"el":"Sr","nu":40,"i":0.15},{"el":"Sr","nu":45,"i":0.34},{"el":"Sr","nu":48,"i":0.48},{"el":"Sr","nu":50,"i":0.5},{"el":"Sr","nu":53,"i":0.49},{"el":"Sr","nu":55,"i":0.47},{"el":"Sr","nu":58,"i":0.51},{"el":"Sr","nu":62,"i":0.56},{"el":"Sr","nu":66,"i":0.65},{"el":"Sr","nu":70,"i":0.72},{"el":"Sr","nu":73,"i":0.77},{"el":"Sr","nu":76,"i":0.8},{"el":"Sr","nu":80,"i":0.88},{"el":"Sr","nu":84,"i":0.95},{"el":"Sr","nu":88,"i":1.0},{"el":"Sr","nu":90,"i":0.99},{"el":"Sr","nu":93,"i":0.93},{"el":"Sr","nu":96,"i":0.91},{"el":"Sr","nu":99,"i":0.945},{"el":"Sr","nu":101,"i":0.915},{"el":"Sr","nu":103,"i":0.94},{"el":"Sr","nu":105,"i":0.86},{"el":"Sr","nu":107,"i":0.845},{"el":"Sr","nu":109,"i":0.89},{"el":"Sr","nu":111,"i":0.93},{"el":"Sr","nu":113,"i":0.84},{"el":"Sr","nu":116,"i":0.72},{"el":"Sr","nu":119,"i":0.65},{"el":"Sr","nu":122,"i":0.59},{"el":"Sr","nu":124,"i":0.57},{"el":"Sr","nu":126,"i":0.65},{"el":"Sr","nu":128,"i":0.69},{"el":"Sr","nu":130,"i":0.66},{"el":"Sr","nu":133,"i":0.57},{"el":"Sr","nu":136,"i":0.54},{"el":"Sr","nu":139,"i":0.525},{"el":"Sr","nu":141,"i":0.59},{"el":"Sr","nu":143,"i":0.63},{"el":"Sr","nu":145,"i":0.655},{"el":"Sr","nu":147,"i":0.6},{"el":"Sr","nu":149,"i":0.57},{"el":"Sr","nu":151,"i":0.49},{"el":"Sr","nu":153,"i":0.43},{"el":"Sr","nu":155,"i":0.395},{"el":"Sr","nu":157,"i":0.42},{"el":"Sr","nu":159,"i":0.48},{"el":"Sr","nu":161,"i":0.49},{"el":"Sr","nu":163,"i":0.46},{"el":"Sr","nu":165,"i":0.38},{"el":"Sr","nu":168,"i":0.35},{"el":"Sr","nu":171,"i":0.33},{"el":"Sr","nu":175,"i":0.325},{"el":"Sr","nu":180,"i":0.31},{"el":"Sr","nu":185,"i":0.29},{"el":"Sr","nu":190,"i":0.264},{"el":"Sr","nu":195,"i":0.24},{"el":"Sr","nu":200,"i":0.226},{"el":"Sr","nu":205,"i":0.21},{"el":"Sr","nu":210,"i":0.188},{"el":"Sr","nu":215,"i":0.157},{"el":"Sr","nu":220,"i":0.142},{"el":"Sr","nu":225,"i":0.126},{"el":"Sr","nu":230,"i":0.11},{"el":"Sr","nu":235,"i":0.096},{"el":"Sr","nu":240,"i":0.088},{"el":"Sr","nu":245,"i":0.08},{"el":"Sr","nu":250,"i":0.069},{"el":"Sr","nu":260,"i":0.061},{"el":"Sr","nu":270,"i":0.057},{"el":"Sr","nu":280,"i":0.05},{"el":"Sr","nu":300,"i":0.042},{"el":"Sr","nu":320,"i":0.034},{"el":"Sr","nu":350,"i":0.031},{"el":"Sr","nu":380,"i":0.027},{"el":"Sr","nu":420,"i":0.023},{"el":"Sr","nu":500,"i":0.018},{"el":"Sr","nu":600,"i":0.013},{"el":"Sr","nu":800,"i":0.012},
{"el":"In","nu":0,"i":0.011},{"el":"In","nu":20,"i":0.027},{"el":"In","nu":30,"i":0.05},{"el":"In","nu":35,"i":0.073},{"el":"In","nu":40,"i":0.126},{"el":"In","nu":43,"i":0.264},{"el":"In","nu":46,"i":0.395},{"el":"In","nu":48,"i":0.41},{"el":"In","nu":50,"i":0.37},{"el":"In","nu":53,"i":0.3},{"el":"In","nu":55,"i":0.27},{"el":"In","nu":58,"i":0.34},{"el":"In","nu":61,"i":0.42},{"el":"In","nu":64,"i":0.43},{"el":"In","nu":67,"i":0.42},{"el":"In","nu":70,"i":0.48},{"el":"In","nu":72,"i":0.54},{"el":"In","nu":74,"i":0.52},{"el":"In","nu":76,"i":0.54},{"el":"In","nu":78,"i":0.6},{"el":"In","nu":80,"i":0.62},{"el":"In","nu":82,"i":0.59},{"el":"In","nu":84,"i":0.54},{"el":"In","nu":86,"i":0.52},{"el":"In","nu":88,"i":0.55},{"el":"In","nu":90,"i":0.55},{"el":"In","nu":92,"i":0.52},{"el":"In","nu":94,"i":0.57},{"el":"In","nu":96,"i":0.62},{"el":"In","nu":98,"i":0.59},{"el":"In","nu":100,"i":0.54},{"el":"In","nu":102,"i":0.59},{"el":"In","nu":104,"i":0.63},{"el":"In","nu":106,"i":0.55},{"el":"In","nu":108,"i":0.53},{"el":"In","nu":110,"i":0.62},{"el":"In","nu":112,"i":0.68},{"el":"In","nu":114,"i":0.65},{"el":"In","nu":116,"i":0.6},{"el":"In","nu":118,"i":0.59},{"el":"In","nu":120,"i":0.54},{"el":"In","nu":122,"i":0.53},{"el":"In","nu":124,"i":0.55},{"el":"In","nu":126,"i":0.52},{"el":"In","nu":128,"i":0.55},{"el":"In","nu":130,"i":0.54},{"el":"In","nu":132,"i":0.555},{"el":"In","nu":134,"i":0.54},{"el":"In","nu":136,"i":0.52},{"el":"In","nu":138,"i":0.49},{"el":"In","nu":140,"i":0.47},{"el":"In","nu":142,"i":0.53},{"el":"In","nu":144,"i":0.58},{"el":"In","nu":146,"i":0.62},{"el":"In","nu":148,"i":0.64},{"el":"In","nu":150,"i":0.59},{"el":"In","nu":152,"i":0.55},{"el":"In","nu":154,"i":0.52},{"el":"In","nu":156,"i":0.5},{"el":"In","nu":158,"i":0.57},{"el":"In","nu":160,"i":0.54},{"el":"In","nu":162,"i":0.52},{"el":"In","nu":164,"i":0.52},{"el":"In","nu":166,"i":0.55},{"el":"In","nu":168,"i":0.56},{"el":"In","nu":170,"i":0.51},{"el":"In","nu":172,"i":0.49},{"el":"In","nu":174,"i":0.456},{"el":"In","nu":176,"i":0.5},{"el":"In","nu":178,"i":0.54},{"el":"In","nu":180,"i":0.55},{"el":"In","nu":182,"i":0.53},{"el":"In","nu":184,"i":0.51},{"el":"In","nu":186,"i":0.48},{"el":"In","nu":188,"i":0.49},{"el":"In","nu":190,"i":0.54},{"el":"In","nu":192,"i":0.57},{"el":"In","nu":194,"i":0.53},{"el":"In","nu":196,"i":0.49},{"el":"In","nu":198,"i":0.456},{"el":"In","nu":200,"i":0.456},{"el":"In","nu":203,"i":0.42},{"el":"In","nu":206,"i":0.38},{"el":"In","nu":209,"i":0.356},{"el":"In","nu":212,"i":0.32},{"el":"In","nu":215,"i":0.29},{"el":"In","nu":218,"i":0.28},{"el":"In","nu":220,"i":0.295},{"el":"In","nu":222,"i":0.3},{"el":"In","nu":224,"i":0.27},{"el":"In","nu":227,"i":0.257},{"el":"In","nu":230,"i":0.21},{"el":"In","nu":233,"i":0.203},{"el":"In","nu":236,"i":0.21},{"el":"In","nu":239,"i":0.215},{"el":"In","nu":242,"i":0.195},{"el":"In","nu":245,"i":0.157},{"el":"In","nu":248,"i":0.126},{"el":"In","nu":251,"i":0.115},{"el":"In","nu":254,"i":0.123},{"el":"In","nu":257,"i":0.11},{"el":"In","nu":260,"i":0.114},{"el":"In","nu":264,"i":0.103},{"el":"In","nu":268,"i":0.096},{"el":"In","nu":272,"i":0.088},{"el":"In","nu":276,"i":0.08},{"el":"In","nu":280,"i":0.08},{"el":"In","nu":285,"i":0.073},{"el":"In","nu":290,"i":0.065},{"el":"In","nu":295,"i":0.069},{"el":"In","nu":300,"i":0.057},{"el":"In","nu":310,"i":0.061},{"el":"In","nu":320,"i":0.057},{"el":"In","nu":330,"i":0.05},{"el":"In","nu":350,"i":0.046},{"el":"In","nu":370,"i":0.038},{"el":"In","nu":390,"i":0.034},{"el":"In","nu":420,"i":0.031},{"el":"In","nu":460,"i":0.03},{"el":"In","nu":500,"i":0.032},{"el":"In","nu":540,"i":0.03},{"el":"In","nu":580,"i":0.02},{"el":"In","nu":620,"i":0.016},{"el":"In","nu":800,"i":0.015},
{"el":"Ti","nu":0,"i":0.004},{"el":"Ti","nu":10,"i":0.011},{"el":"Ti","nu":20,"i":0.019},{"el":"Ti","nu":25,"i":0.023},{"el":"Ti","nu":30,"i":0.034},{"el":"Ti","nu":35,"i":0.05},{"el":"Ti","nu":40,"i":0.08},{"el":"Ti","nu":44,"i":0.11},{"el":"Ti","nu":47,"i":0.126},{"el":"Ti","nu":49,"i":0.134},{"el":"Ti","nu":51,"i":0.11},{"el":"Ti","nu":53,"i":0.088},{"el":"Ti","nu":55,"i":0.073},{"el":"Ti","nu":58,"i":0.096},{"el":"Ti","nu":62,"i":0.096},{"el":"Ti","nu":66,"i":0.11},{"el":"Ti","nu":70,"i":0.119},{"el":"Ti","nu":74,"i":0.119},{"el":"Ti","nu":78,"i":0.126},{"el":"Ti","nu":82,"i":0.134},{"el":"Ti","nu":86,"i":0.15},{"el":"Ti","nu":90,"i":0.165},{"el":"Ti","nu":94,"i":0.172},{"el":"Ti","nu":98,"i":0.157},{"el":"Ti","nu":102,"i":0.165},{"el":"Ti","nu":106,"i":0.218},{"el":"Ti","nu":110,"i":0.195},{"el":"Ti","nu":114,"i":0.234},{"el":"Ti","nu":116,"i":0.218},{"el":"Ti","nu":118,"i":0.188},{"el":"Ti","nu":121,"i":0.21},{"el":"Ti","nu":124,"i":0.188},{"el":"Ti","nu":127,"i":0.195},{"el":"Ti","nu":130,"i":0.172},{"el":"Ti","nu":133,"i":0.188},{"el":"Ti","nu":136,"i":0.172},{"el":"Ti","nu":139,"i":0.188},{"el":"Ti","nu":142,"i":0.218},{"el":"Ti","nu":145,"i":0.188},{"el":"Ti","nu":148,"i":0.195},{"el":"Ti","nu":151,"i":0.18},{"el":"Ti","nu":154,"i":0.195},{"el":"Ti","nu":157,"i":0.172},{"el":"Ti","nu":160,"i":0.18},{"el":"Ti","nu":163,"i":0.218},{"el":"Ti","nu":166,"i":0.203},{"el":"Ti","nu":169,"i":0.188},{"el":"Ti","nu":172,"i":0.21},{"el":"Ti","nu":175,"i":0.195},{"el":"Ti","nu":178,"i":0.203},{"el":"Ti","nu":181,"i":0.203},{"el":"Ti","nu":184,"i":0.234},{"el":"Ti","nu":187,"i":0.226},{"el":"Ti","nu":190,"i":0.234},{"el":"Ti","nu":193,"i":0.21},{"el":"Ti","nu":196,"i":0.203},{"el":"Ti","nu":199,"i":0.218},{"el":"Ti","nu":202,"i":0.188},{"el":"Ti","nu":205,"i":0.226},{"el":"Ti","nu":208,"i":0.241},{"el":"Ti","nu":211,"i":0.21},{"el":"Ti","nu":214,"i":0.264},{"el":"Ti","nu":217,"i":0.226},{"el":"Ti","nu":220,"i":0.264},{"el":"Ti","nu":223,"i":0.28},{"el":"Ti","nu":226,"i":0.264},{"el":"Ti","nu":229,"i":0.234},{"el":"Ti","nu":232,"i":0.264},{"el":"Ti","nu":235,"i":0.31},{"el":"Ti","nu":238,"i":0.28},{"el":"Ti","nu":241,"i":0.264},{"el":"Ti","nu":244,"i":0.287},{"el":"Ti","nu":247,"i":0.257},{"el":"Ti","nu":250,"i":0.264},{"el":"Ti","nu":253,"i":0.268},{"el":"Ti","nu":256,"i":0.25},{"el":"Ti","nu":259,"i":0.264},{"el":"Ti","nu":262,"i":0.272},{"el":"Ti","nu":265,"i":0.287},{"el":"Ti","nu":268,"i":0.272},{"el":"Ti","nu":271,"i":0.31},{"el":"Ti","nu":274,"i":0.287},{"el":"Ti","nu":277,"i":0.272},{"el":"Ti","nu":280,"i":0.264},{"el":"Ti","nu":283,"i":0.257},{"el":"Ti","nu":286,"i":0.264},{"el":"Ti","nu":289,"i":0.264},{"el":"Ti","nu":292,"i":0.272},{"el":"Ti","nu":295,"i":0.25},{"el":"Ti","nu":298,"i":0.264},{"el":"Ti","nu":301,"i":0.28},{"el":"Ti","nu":304,"i":0.303},{"el":"Ti","nu":307,"i":0.31},{"el":"Ti","nu":310,"i":0.318},{"el":"Ti","nu":313,"i":0.295},{"el":"Ti","nu":316,"i":0.318},{"el":"Ti","nu":319,"i":0.31},{"el":"Ti","nu":322,"i":0.28},{"el":"Ti","nu":325,"i":0.295},{"el":"Ti","nu":328,"i":0.264},{"el":"Ti","nu":331,"i":0.318},{"el":"Ti","nu":334,"i":0.34},{"el":"Ti","nu":337,"i":0.295},{"el":"Ti","nu":340,"i":0.257},{"el":"Ti","nu":343,"i":0.326},{"el":"Ti","nu":346,"i":0.356},{"el":"Ti","nu":348,"i":0.35},{"el":"Ti","nu":350,"i":0.31},{"el":"Ti","nu":353,"i":0.272},{"el":"Ti","nu":356,"i":0.25},{"el":"Ti","nu":359,"i":0.287},{"el":"Ti","nu":362,"i":0.295},{"el":"Ti","nu":365,"i":0.264},{"el":"Ti","nu":368,"i":0.234},{"el":"Ti","nu":371,"i":0.25},{"el":"Ti","nu":374,"i":0.218},{"el":"Ti","nu":377,"i":0.203},{"el":"Ti","nu":380,"i":0.188},{"el":"Ti","nu":383,"i":0.18},{"el":"Ti","nu":386,"i":0.203},{"el":"Ti","nu":389,"i":0.188},{"el":"Ti","nu":392,"i":0.18},{"el":"Ti","nu":398,"i":0.195},{"el":"Ti","nu":403,"i":0.241},{"el":"Ti","nu":408,"i":0.203},{"el":"Ti","nu":412,"i":0.165},{"el":"Ti","nu":419,"i":0.142},{"el":"Ti","nu":426,"i":0.134},{"el":"Ti","nu":433,"i":0.123},{"el":"Ti","nu":440,"i":0.111},{"el":"Ti","nu":448,"i":0.092},{"el":"Ti","nu":458,"i":0.08},{"el":"Ti","nu":467,"i":0.065},{"el":"Ti","nu":476,"i":0.065},{"el":"Ti","nu":485,"i":0.069},{"el":"Ti","nu":494,"i":0.065},{"el":"Ti","nu":499,"i":0.046},{"el":"Ti","nu":508,"i":0.073},{"el":"Ti","nu":517,"i":0.069},{"el":"Ti","nu":526,"i":0.061},{"el":"Ti","nu":535,"i":0.069},{"el":"Ti","nu":544,"i":0.073},{"el":"Ti","nu":553,"i":0.084},{"el":"Ti","nu":562,"i":0.077},{"el":"Ti","nu":571,"i":0.08},{"el":"Ti","nu":581,"i":0.08},{"el":"Ti","nu":590,"i":0.088},{"el":"Ti","nu":599,"i":0.08},{"el":"Ti","nu":608,"i":0.069},{"el":"Ti","nu":617,"i":0.08},{"el":"Ti","nu":626,"i":0.08},{"el":"Ti","nu":635,"i":0.077},{"el":"Ti","nu":644,"i":0.057},{"el":"Ti","nu":654,"i":0.088},{"el":"Ti","nu":663,"i":0.096},{"el":"Ti","nu":672,"i":0.088},{"el":"Ti","nu":681,"i":0.088},{"el":"Ti","nu":690,"i":0.077},{"el":"Ti","nu":699,"i":0.088},{"el":"Ti","nu":706,"i":0.107},{"el":"Ti","nu":713,"i":0.088},{"el":"Ti","nu":720,"i":0.065},{"el":"Ti","nu":725,"i":0.092},{"el":"Ti","nu":729,"i":0.111},{"el":"Ti","nu":734,"i":0.065},{"el":"Ti","nu":740,"i":0.077},{"el":"Ti","nu":747,"i":0.08},{"el":"Ti","nu":754,"i":0.061},{"el":"Ti","nu":763,"i":0.05},{"el":"Ti","nu":772,"i":0.042},{"el":"Ti","nu":781,"i":0.038},{"el":"Ti","nu":790,"i":0.034},{"el":"Ti","nu":800,"i":0.03},
{"el":"O","nu":0,"i":0.011},{"el":"O","nu":10,"i":0.015},{"el":"O","nu":20,"i":0.027},{"el":"O","nu":30,"i":0.05},{"el":"O","nu":35,"i":0.073},{"el":"O","nu":40,"i":0.096},{"el":"O","nu":45,"i":0.092},{"el":"O","nu":50,"i":0.096},{"el":"O","nu":55,"i":0.103},{"el":"O","nu":60,"i":0.11},{"el":"O","nu":65,"i":0.119},{"el":"O","nu":70,"i":0.123},{"el":"O","nu":75,"i":0.126},{"el":"O","nu":80,"i":0.134},{"el":"O","nu":85,"i":0.142},{"el":"O","nu":90,"i":0.15},{"el":"O","nu":95,"i":0.134},{"el":"O","nu":100,"i":0.153},{"el":"O","nu":105,"i":0.165},{"el":"O","nu":110,"i":0.165},{"el":"O","nu":115,"i":0.134},{"el":"O","nu":120,"i":0.157},{"el":"O","nu":125,"i":0.172},{"el":"O","nu":130,"i":0.18},{"el":"O","nu":135,"i":0.188},{"el":"O","nu":140,"i":0.18},{"el":"O","nu":145,"i":0.188},{"el":"O","nu":150,"i":0.195},{"el":"O","nu":155,"i":0.188},{"el":"O","nu":160,"i":0.203},{"el":"O","nu":165,"i":0.195},{"el":"O","nu":170,"i":0.203},{"el":"O","nu":175,"i":0.218},{"el":"O","nu":180,"i":0.234},{"el":"O","nu":185,"i":0.234},{"el":"O","nu":190,"i":0.241},{"el":"O","nu":195,"i":0.249},{"el":"O","nu":200,"i":0.241},{"el":"O","nu":205,"i":0.257},{"el":"O","nu":210,"i":0.264},{"el":"O","nu":215,"i":0.257},{"el":"O","nu":220,"i":0.272},{"el":"O","nu":225,"i":0.264},{"el":"O","nu":230,"i":0.28},{"el":"O","nu":233,"i":0.264},{"el":"O","nu":236,"i":0.264},{"el":"O","nu":240,"i":0.272},{"el":"O","nu":243,"i":0.257},{"el":"O","nu":246,"i":0.264},{"el":"O","nu":250,"i":0.272},{"el":"O","nu":253,"i":0.257},{"el":"O","nu":256,"i":0.272},{"el":"O","nu":260,"i":0.264},{"el":"O","nu":265,"i":0.257},{"el":"O","nu":270,"i":0.257},{"el":"O","nu":275,"i":0.253},{"el":"O","nu":280,"i":0.257},{"el":"O","nu":285,"i":0.253},{"el":"O","nu":290,"i":0.257},{"el":"O","nu":295,"i":0.249},{"el":"O","nu":300,"i":0.241},{"el":"O","nu":305,"i":0.257},{"el":"O","nu":310,"i":0.249},{"el":"O","nu":315,"i":0.234},{"el":"O","nu":320,"i":0.238},{"el":"O","nu":325,"i":0.226},{"el":"O","nu":330,"i":0.21},{"el":"O","nu":335,"i":0.21},{"el":"O","nu":340,"i":0.21},{"el":"O","nu":345,"i":0.207},{"el":"O","nu":350,"i":0.203},{"el":"O","nu":355,"i":0.199},{"el":"O","nu":360,"i":0.195},{"el":"O","nu":365,"i":0.203},{"el":"O","nu":370,"i":0.203},{"el":"O","nu":375,"i":0.188},{"el":"O","nu":380,"i":0.188},{"el":"O","nu":385,"i":0.195},{"el":"O","nu":390,"i":0.188},{"el":"O","nu":395,"i":0.188},{"el":"O","nu":401,"i":0.195},{"el":"O","nu":405,"i":0.21},{"el":"O","nu":410,"i":0.218},{"el":"O","nu":417,"i":0.188},{"el":"O","nu":424,"i":0.172},{"el":"O","nu":430,"i":0.15},{"el":"O","nu":440,"i":0.138},{"el":"O","nu":448,"i":0.126},{"el":"O","nu":458,"i":0.126},{"el":"O","nu":467,"i":0.134},{"el":"O","nu":476,"i":0.142},{"el":"O","nu":485,"i":0.123},{"el":"O","nu":494,"i":0.119},{"el":"O","nu":503,"i":0.123},{"el":"O","nu":512,"i":0.13},{"el":"O","nu":522,"i":0.123},{"el":"O","nu":531,"i":0.13},{"el":"O","nu":540,"i":0.119},{"el":"O","nu":549,"i":0.13},{"el":"O","nu":558,"i":0.126},{"el":"O","nu":567,"i":0.115},{"el":"O","nu":576,"i":0.115},{"el":"O","nu":585,"i":0.111},{"el":"O","nu":594,"i":0.115},{"el":"O","nu":603,"i":0.103},{"el":"O","nu":613,"i":0.1},{"el":"O","nu":622,"i":0.096},{"el":"O","nu":631,"i":0.092},{"el":"O","nu":640,"i":0.096},{"el":"O","nu":649,"i":0.088},{"el":"O","nu":658,"i":0.084},{"el":"O","nu":667,"i":0.084},{"el":"O","nu":676,"i":0.08},{"el":"O","nu":685,"i":0.077},{"el":"O","nu":694,"i":0.069},{"el":"O","nu":703,"i":0.073},{"el":"O","nu":713,"i":0.069},{"el":"O","nu":722,"i":0.057},{"el":"O","nu":731,"i":0.065},{"el":"O","nu":740,"i":0.065},{"el":"O","nu":749,"i":0.061},{"el":"O","nu":758,"i":0.05},{"el":"O","nu":767,"i":0.046},{"el":"O","nu":776,"i":0.038},{"el":"O","nu":785,"i":0.038},{"el":"O","nu":800,"i":0.03}
],
"ld": [
{"el":"Ba","nu":0,"i":0.008},{"el":"Ba","nu":20,"i":0.015},{"el":"Ba","nu":25,"i":0.027},{"el":"Ba","nu":27,"i":0.057},{"el":"Ba","nu":30,"i":0.11},{"el":"Ba","nu":33,"i":0.188},{"el":"Ba","nu":36,"i":0.3},{"el":"Ba","nu":40,"i":0.42},{"el":"Ba","nu":43,"i":0.49},{"el":"Ba","nu":45,"i":0.556},{"el":"Ba","nu":47,"i":0.63},{"el":"Ba","nu":49,"i":0.686},{"el":"Ba","nu":52,"i":0.7},{"el":"Ba","nu":55,"i":0.8},{"el":"Ba","nu":58,"i":0.89},{"el":"Ba","nu":61,"i":1.0},{"el":"Ba","nu":70,"i":1.4},{"el":"Ba","nu":85,"i":1.5},{"el":"Ba","nu":96,"i":1.0},{"el":"Ba","nu":99,"i":0.877},{"el":"Ba","nu":101,"i":0.76},{"el":"Ba","nu":103,"i":0.68},{"el":"Ba","nu":105,"i":0.63},{"el":"Ba","nu":108,"i":0.6},{"el":"Ba","nu":111,"i":0.57},{"el":"Ba","nu":114,"i":0.547},{"el":"Ba","nu":117,"i":0.547},{"el":"Ba","nu":120,"i":0.525},{"el":"Ba","nu":123,"i":0.48},{"el":"Ba","nu":126,"i":0.433},{"el":"Ba","nu":129,"i":0.395},{"el":"Ba","nu":132,"i":0.37},{"el":"Ba","nu":135,"i":0.34},{"el":"Ba","nu":138,"i":0.326},{"el":"Ba","nu":141,"i":0.31},{"el":"Ba","nu":144,"i":0.295},{"el":"Ba","nu":147,"i":0.264},{"el":"Ba","nu":150,"i":0.24},{"el":"Ba","nu":153,"i":0.23},{"el":"Ba","nu":156,"i":0.241},{"el":"Ba","nu":159,"i":0.234},{"el":"Ba","nu":162,"i":0.226},{"el":"Ba","nu":165,"i":0.234},{"el":"Ba","nu":168,"i":0.21},{"el":"Ba","nu":171,"i":0.188},{"el":"Ba","nu":174,"i":0.157},{"el":"Ba","nu":177,"i":0.172},{"el":"Ba","nu":180,"i":0.15},{"el":"Ba","nu":183,"i":0.134},{"el":"Ba","nu":186,"i":0.119},{"el":"Ba","nu":189,"i":0.111},{"el":"Ba","nu":192,"i":0.096},{"el":"Ba","nu":195,"i":0.111},{"el":"Ba","nu":198,"i":0.088},{"el":"Ba","nu":201,"i":0.08},{"el":"Ba","nu":204,"i":0.073},{"el":"Ba","nu":207,"i":0.08},{"el":"Ba","nu":210,"i":0.088},{"el":"Ba","nu":213,"i":0.069},{"el":"Ba","nu":216,"i":0.065},{"el":"Ba","nu":220,"i":0.057},{"el":"Ba","nu":225,"i":0.05},{"el":"Ba","nu":230,"i":0.042},{"el":"Ba","nu":240,"i":0.034},{"el":"Ba","nu":250,"i":0.031},{"el":"Ba","nu":260,"i":0.027},{"el":"Ba","nu":280,"i":0.023},{"el":"Ba","nu":300,"i":0.02},{"el":"Ba","nu":350,"i":0.019},{"el":"Ba","nu":400,"i":0.015},{"el":"Ba","nu":500,"i":0.012},{"el":"Ba","nu":600,"i":0.011},{"el":"Ba","nu":800,"i":0.01},
{"el":"In","nu":0,"i":0.008},{"el":"In","nu":20,"i":0.019},{"el":"In","nu":25,"i":0.034},{"el":"In","nu":28,"i":0.073},{"el":"In","nu":31,"i":0.188},{"el":"In","nu":34,"i":0.3},{"el":"In","nu":37,"i":0.356},{"el":"In","nu":40,"i":0.364},{"el":"In","nu":43,"i":0.372},{"el":"In","nu":45,"i":0.41},{"el":"In","nu":47,"i":0.387},{"el":"In","nu":49,"i":0.356},{"el":"In","nu":51,"i":0.38},{"el":"In","nu":53,"i":0.394},{"el":"In","nu":56,"i":0.41},{"el":"In","nu":59,"i":0.425},{"el":"In","nu":62,"i":0.433},{"el":"In","nu":65,"i":0.47},{"el":"In","nu":68,"i":0.5},{"el":"In","nu":70,"i":0.54},{"el":"In","nu":72,"i":0.57},{"el":"In","nu":74,"i":0.55},{"el":"In","nu":76,"i":0.53},{"el":"In","nu":78,"i":0.55},{"el":"In","nu":80,"i":0.63},{"el":"In","nu":82,"i":0.71},{"el":"In","nu":84,"i":0.65},{"el":"In","nu":86,"i":0.58},{"el":"In","nu":88,"i":0.6},{"el":"In","nu":90,"i":0.66},{"el":"In","nu":92,"i":0.6},{"el":"In","nu":94,"i":0.54},{"el":"In","nu":96,"i":0.59},{"el":"In","nu":98,"i":0.61},{"el":"In","nu":100,"i":0.66},{"el":"In","nu":102,"i":0.62},{"el":"In","nu":104,"i":0.59},{"el":"In","nu":106,"i":0.595},{"el":"In","nu":108,"i":0.71},{"el":"In","nu":110,"i":0.724},{"el":"In","nu":112,"i":0.7},{"el":"In","nu":114,"i":0.74},{"el":"In","nu":116,"i":0.8},{"el":"In","nu":118,"i":0.76},{"el":"In","nu":120,"i":0.71},{"el":"In","nu":122,"i":0.65},{"el":"In","nu":124,"i":0.57},{"el":"In","nu":126,"i":0.59},{"el":"In","nu":128,"i":0.62},{"el":"In","nu":130,"i":0.655},{"el":"In","nu":132,"i":0.64},{"el":"In","nu":134,"i":0.6},{"el":"In","nu":136,"i":0.61},{"el":"In","nu":138,"i":0.66},{"el":"In","nu":140,"i":0.68},{"el":"In","nu":142,"i":0.65},{"el":"In","nu":144,"i":0.63},{"el":"In","nu":146,"i":0.59},{"el":"In","nu":148,"i":0.57},{"el":"In","nu":150,"i":0.59},{"el":"In","nu":152,"i":0.62},{"el":"In","nu":154,"i":0.63},{"el":"In","nu":156,"i":0.59},{"el":"In","nu":158,"i":0.6},{"el":"In","nu":160,"i":0.62},{"el":"In","nu":162,"i":0.6},{"el":"In","nu":164,"i":0.57},{"el":"In","nu":166,"i":0.63},{"el":"In","nu":168,"i":0.66},{"el":"In","nu":170,"i":0.63},{"el":"In","nu":172,"i":0.57},{"el":"In","nu":174,"i":0.55},{"el":"In","nu":176,"i":0.54},{"el":"In","nu":178,"i":0.525},{"el":"In","nu":180,"i":0.517},{"el":"In","nu":182,"i":0.48},{"el":"In","nu":184,"i":0.45},{"el":"In","nu":186,"i":0.47},{"el":"In","nu":188,"i":0.44},{"el":"In","nu":190,"i":0.38},{"el":"In","nu":192,"i":0.356},{"el":"In","nu":194,"i":0.356},{"el":"In","nu":196,"i":0.35},{"el":"In","nu":198,"i":0.34},{"el":"In","nu":200,"i":0.34},{"el":"In","nu":203,"i":0.326},{"el":"In","nu":206,"i":0.34},{"el":"In","nu":209,"i":0.3},{"el":"In","nu":212,"i":0.264},{"el":"In","nu":215,"i":0.218},{"el":"In","nu":218,"i":0.21},{"el":"In","nu":221,"i":0.214},{"el":"In","nu":224,"i":0.188},{"el":"In","nu":227,"i":0.165},{"el":"In","nu":230,"i":0.126},{"el":"In","nu":233,"i":0.13},{"el":"In","nu":236,"i":0.126},{"el":"In","nu":240,"i":0.111},{"el":"In","nu":245,"i":0.096},{"el":"In","nu":250,"i":0.08},{"el":"In","nu":255,"i":0.073},{"el":"In","nu":260,"i":0.065},{"el":"In","nu":270,"i":0.061},{"el":"In","nu":280,"i":0.057},{"el":"In","nu":290,"i":0.054},{"el":"In","nu":300,"i":0.05},{"el":"In","nu":320,"i":0.046},{"el":"In","nu":340,"i":0.042},{"el":"In","nu":360,"i":0.038},{"el":"In","nu":380,"i":0.034},{"el":"In","nu":400,"i":0.031},{"el":"In","nu":433,"i":0.027},{"el":"In","nu":456,"i":0.031},{"el":"In","nu":479,"i":0.031},{"el":"In","nu":501,"i":0.038},{"el":"In","nu":510,"i":0.042},{"el":"In","nu":524,"i":0.038},{"el":"In","nu":547,"i":0.037},{"el":"In","nu":570,"i":0.034},{"el":"In","nu":593,"i":0.031},{"el":"In","nu":615,"i":0.025},{"el":"In","nu":638,"i":0.019},{"el":"In","nu":661,"i":0.015},{"el":"In","nu":800,"i":0.013},
{"el":"Y","nu":0,"i":0.008},{"el":"Y","nu":20,"i":0.015},{"el":"Y","nu":25,"i":0.023},{"el":"Y","nu":28,"i":0.034},{"el":"Y","nu":31,"i":0.111},{"el":"Y","nu":33,"i":0.188},{"el":"Y","nu":35,"i":0.226},{"el":"Y","nu":37,"i":0.21},{"el":"Y","nu":39,"i":0.218},{"el":"Y","nu":43,"i":0.234},{"el":"Y","nu":47,"i":0.234},{"el":"Y","nu":49,"i":0.249},{"el":"Y","nu":51,"i":0.234},{"el":"Y","nu":53,"i":0.28},{"el":"Y","nu":55,"i":0.295},{"el":"Y","nu":57,"i":0.28},{"el":"Y","nu":59,"i":0.226},{"el":"Y","nu":61,"i":0.18},{"el":"Y","nu":63,"i":0.157},{"el":"Y","nu":65,"i":0.226},{"el":"Y","nu":67,"i":0.34},{"el":"Y","nu":69,"i":0.42},{"el":"Y","nu":71,"i":0.433},{"el":"Y","nu":73,"i":0.38},{"el":"Y","nu":75,"i":0.3},{"el":"Y","nu":77,"i":0.264},{"el":"Y","nu":79,"i":0.3},{"el":"Y","nu":81,"i":0.38},{"el":"Y","nu":83,"i":0.425},{"el":"Y","nu":85,"i":0.37},{"el":"Y","nu":87,"i":0.387},{"el":"Y","nu":89,"i":0.34},{"el":"Y","nu":91,"i":0.295},{"el":"Y","nu":93,"i":0.31},{"el":"Y","nu":95,"i":0.38},{"el":"Y","nu":97,"i":0.448},{"el":"Y","nu":99,"i":0.547},{"el":"Y","nu":101,"i":0.525},{"el":"Y","nu":103,"i":0.48},{"el":"Y","nu":105,"i":0.42},{"el":"Y","nu":107,"i":0.34},{"el":"Y","nu":109,"i":0.264},{"el":"Y","nu":111,"i":0.3},{"el":"Y","nu":113,"i":0.34},{"el":"Y","nu":115,"i":0.287},{"el":"Y","nu":117,"i":0.257},{"el":"Y","nu":119,"i":0.34},{"el":"Y","nu":121,"i":0.433},{"el":"Y","nu":123,"i":0.494},{"el":"Y","nu":125,"i":0.51},{"el":"Y","nu":127,"i":0.42},{"el":"Y","nu":129,"i":0.34},{"el":"Y","nu":131,"i":0.264},{"el":"Y","nu":133,"i":0.257},{"el":"Y","nu":135,"i":0.34},{"el":"Y","nu":137,"i":0.31},{"el":"Y","nu":139,"i":0.287},{"el":"Y","nu":141,"i":0.38},{"el":"Y","nu":143,"i":0.48},{"el":"Y","nu":145,"i":0.54},{"el":"Y","nu":147,"i":0.58},{"el":"Y","nu":149,"i":0.55},{"el":"Y","nu":151,"i":0.536},{"el":"Y","nu":153,"i":0.55},{"el":"Y","nu":155,"i":0.525},{"el":"Y","nu":157,"i":0.53},{"el":"Y","nu":159,"i":0.563},{"el":"Y","nu":161,"i":0.55},{"el":"Y","nu":163,"i":0.525},{"el":"Y","nu":165,"i":0.51},{"el":"Y","nu":167,"i":0.486},{"el":"Y","nu":169,"i":0.5},{"el":"Y","nu":171,"i":0.48},{"el":"Y","nu":173,"i":0.51},{"el":"Y","nu":175,"i":0.536},{"el":"Y","nu":177,"i":0.556},{"el":"Y","nu":179,"i":0.586},{"el":"Y","nu":181,"i":0.65},{"el":"Y","nu":182,"i":0.755},{"el":"Y","nu":183,"i":0.77},{"el":"Y","nu":185,"i":0.74},{"el":"Y","nu":187,"i":0.686},{"el":"Y","nu":189,"i":0.586},{"el":"Y","nu":191,"i":0.536},{"el":"Y","nu":193,"i":0.57},{"el":"Y","nu":195,"i":0.617},{"el":"Y","nu":197,"i":0.632},{"el":"Y","nu":199,"i":0.556},{"el":"Y","nu":201,"i":0.517},{"el":"Y","nu":203,"i":0.48},{"el":"Y","nu":205,"i":0.536},{"el":"Y","nu":207,"i":0.632},{"el":"Y","nu":209,"i":0.693},{"el":"Y","nu":211,"i":0.678},{"el":"Y","nu":213,"i":0.632},{"el":"Y","nu":215,"i":0.57},{"el":"Y","nu":217,"i":0.536},{"el":"Y","nu":219,"i":0.556},{"el":"Y","nu":221,"i":0.525},{"el":"Y","nu":223,"i":0.548},{"el":"Y","nu":225,"i":0.556},{"el":"Y","nu":227,"i":0.54},{"el":"Y","nu":229,"i":0.556},{"el":"Y","nu":231,"i":0.525},{"el":"Y","nu":233,"i":0.494},{"el":"Y","nu":235,"i":0.448},{"el":"Y","nu":237,"i":0.402},{"el":"Y","nu":239,"i":0.425},{"el":"Y","nu":241,"i":0.418},{"el":"Y","nu":243,"i":0.418},{"el":"Y","nu":245,"i":0.395},{"el":"Y","nu":247,"i":0.402},{"el":"Y","nu":249,"i":0.372},{"el":"Y","nu":251,"i":0.31},{"el":"Y","nu":253,"i":0.226},{"el":"Y","nu":255,"i":0.218},{"el":"Y","nu":257,"i":0.249},{"el":"Y","nu":259,"i":0.257},{"el":"Y","nu":261,"i":0.234},{"el":"Y","nu":263,"i":0.188},{"el":"Y","nu":265,"i":0.195},{"el":"Y","nu":267,"i":0.218},{"el":"Y","nu":269,"i":0.195},{"el":"Y","nu":271,"i":0.165},{"el":"Y","nu":273,"i":0.15},{"el":"Y","nu":275,"i":0.142},{"el":"Y","nu":279,"i":0.134},{"el":"Y","nu":281,"i":0.119},{"el":"Y","nu":285,"i":0.13},{"el":"Y","nu":289,"i":0.134},{"el":"Y","nu":293,"i":0.111},{"el":"Y","nu":297,"i":0.103},{"el":"Y","nu":299,"i":0.096},{"el":"Y","nu":303,"i":0.088},{"el":"Y","nu":305,"i":0.096},{"el":"Y","nu":307,"i":0.08},{"el":"Y","nu":313,"i":0.073},{"el":"Y","nu":319,"i":0.065},{"el":"Y","nu":325,"i":0.061},{"el":"Y","nu":328,"i":0.057},{"el":"Y","nu":334,"i":0.065},{"el":"Y","nu":340,"i":0.054},{"el":"Y","nu":346,"i":0.065},{"el":"Y","nu":352,"i":0.057},{"el":"Y","nu":358,"i":0.065},{"el":"Y","nu":364,"i":0.071},{"el":"Y","nu":370,"i":0.054},{"el":"Y","nu":376,"i":0.05},{"el":"Y","nu":382,"i":0.046},{"el":"Y","nu":391,"i":0.042},{"el":"Y","nu":400,"i":0.038},{"el":"Y","nu":405,"i":0.042},{"el":"Y","nu":415,"i":0.031},{"el":"Y","nu":424,"i":0.027},{"el":"Y","nu":428,"i":0.034},{"el":"Y","nu":433,"i":0.025},{"el":"Y","nu":447,"i":0.027},{"el":"Y","nu":460,"i":0.031},{"el":"Y","nu":474,"i":0.028},{"el":"Y","nu":483,"i":0.033},{"el":"Y","nu":497,"i":0.031},{"el":"Y","nu":510,"i":0.027},{"el":"Y","nu":524,"i":0.025},{"el":"Y","nu":538,"i":0.027},{"el":"Y","nu":551,"i":0.025},{"el":"Y","nu":570,"i":0.023},{"el":"Y","nu":593,"i":0.019},{"el":"Y","nu":615,"i":0.017},{"el":"Y","nu":661,"i":0.015},{"el":"Y","nu":800,"i":0.014},
{"el":"O","nu":0,"i":0.008},{"el":"O","nu":20,"i":0.015},{"el":"O","nu":27,"i":0.027},{"el":"O","nu":30,"i":0.038},{"el":"O","nu":35,"i":0.073},{"el":"O","nu":40,"i":0.08},{"el":"O","nu":45,"i":0.08},{"el":"O","nu":50,"i":0.088},{"el":"O","nu":55,"i":0.096},{"el":"O","nu":60,"i":0.088},{"el":"O","nu":65,"i":0.096},{"el":"O","nu":70,"i":0.103},{"el":"O","nu":75,"i":0.103},{"el":"O","nu":80,"i":0.111},{"el":"O","nu":85,"i":0.119},{"el":"O","nu":90,"i":0.126},{"el":"O","nu":95,"i":0.142},{"el":"O","nu":100,"i":0.157},{"el":"O","nu":105,"i":0.172},{"el":"O","nu":110,"i":0.188},{"el":"O","nu":115,"i":0.195},{"el":"O","nu":120,"i":0.21},{"el":"O","nu":125,"i":0.218},{"el":"O","nu":130,"i":0.226},{"el":"O","nu":135,"i":0.241},{"el":"O","nu":140,"i":0.226},{"el":"O","nu":145,"i":0.241},{"el":"O","nu":150,"i":0.249},{"el":"O","nu":155,"i":0.234},{"el":"O","nu":160,"i":0.234},{"el":"O","nu":165,"i":0.249},{"el":"O","nu":170,"i":0.264},{"el":"O","nu":175,"i":0.28},{"el":"O","nu":180,"i":0.295},{"el":"O","nu":185,"i":0.31},{"el":"O","nu":190,"i":0.303},{"el":"O","nu":195,"i":0.326},{"el":"O","nu":200,"i":0.333},{"el":"O","nu":205,"i":0.349},{"el":"O","nu":210,"i":0.372},{"el":"O","nu":213,"i":0.364},{"el":"O","nu":216,"i":0.372},{"el":"O","nu":219,"i":0.341},{"el":"O","nu":222,"i":0.356},{"el":"O","nu":225,"i":0.38},{"el":"O","nu":228,"i":0.364},{"el":"O","nu":231,"i":0.341},{"el":"O","nu":234,"i":0.326},{"el":"O","nu":237,"i":0.356},{"el":"O","nu":240,"i":0.341},{"el":"O","nu":243,"i":0.38},{"el":"O","nu":245,"i":0.387},{"el":"O","nu":247,"i":0.349},{"el":"O","nu":249,"i":0.326},{"el":"O","nu":252,"i":0.341},{"el":"O","nu":255,"i":0.326},{"el":"O","nu":258,"i":0.31},{"el":"O","nu":261,"i":0.318},{"el":"O","nu":264,"i":0.303},{"el":"O","nu":267,"i":0.295},{"el":"O","nu":270,"i":0.318},{"el":"O","nu":273,"i":0.28},{"el":"O","nu":276,"i":0.264},{"el":"O","nu":279,"i":0.257},{"el":"O","nu":282,"i":0.264},{"el":"O","nu":285,"i":0.28},{"el":"O","nu":288,"i":0.264},{"el":"O","nu":291,"i":0.249},{"el":"O","nu":294,"i":0.234},{"el":"O","nu":297,"i":0.226},{"el":"O","nu":300,"i":0.218},{"el":"O","nu":303,"i":0.226},{"el":"O","nu":306,"i":0.21},{"el":"O","nu":309,"i":0.203},{"el":"O","nu":312,"i":0.188},{"el":"O","nu":315,"i":0.188},{"el":"O","nu":318,"i":0.195},{"el":"O","nu":321,"i":0.188},{"el":"O","nu":324,"i":0.195},{"el":"O","nu":327,"i":0.188},{"el":"O","nu":330,"i":0.195},{"el":"O","nu":333,"i":0.203},{"el":"O","nu":336,"i":0.21},{"el":"O","nu":339,"i":0.203},{"el":"O","nu":342,"i":0.188},{"el":"O","nu":345,"i":0.195},{"el":"O","nu":348,"i":0.18},{"el":"O","nu":351,"i":0.188},{"el":"O","nu":354,"i":0.199},{"el":"O","nu":357,"i":0.188},{"el":"O","nu":360,"i":0.195},{"el":"O","nu":363,"i":0.199},{"el":"O","nu":366,"i":0.195},{"el":"O","nu":369,"i":0.18},{"el":"O","nu":372,"i":0.195},{"el":"O","nu":375,"i":0.188},{"el":"O","nu":378,"i":0.172},{"el":"O","nu":381,"i":0.157},{"el":"O","nu":384,"i":0.15},{"el":"O","nu":390,"i":0.15},{"el":"O","nu":394,"i":0.142},{"el":"O","nu":401,"i":0.134},{"el":"O","nu":408,"i":0.123},{"el":"O","nu":415,"i":0.107},{"el":"O","nu":422,"i":0.111},{"el":"O","nu":428,"i":0.119},{"el":"O","nu":435,"i":0.111},{"el":"O","nu":442,"i":0.103},{"el":"O","nu":449,"i":0.115},{"el":"O","nu":456,"i":0.119},{"el":"O","nu":463,"i":0.115},{"el":"O","nu":467,"i":0.126},{"el":"O","nu":474,"i":0.134},{"el":"O","nu":481,"i":0.142},{"el":"O","nu":487,"i":0.157},{"el":"O","nu":494,"i":0.172},{"el":"O","nu":497,"i":0.165},{"el":"O","nu":504,"i":0.157},{"el":"O","nu":510,"i":0.169},{"el":"O","nu":517,"i":0.15},{"el":"O","nu":524,"i":0.161},{"el":"O","nu":531,"i":0.142},{"el":"O","nu":540,"i":0.146},{"el":"O","nu":549,"i":0.138},{"el":"O","nu":559,"i":0.15},{"el":"O","nu":568,"i":0.142},{"el":"O","nu":577,"i":0.146},{"el":"O","nu":584,"i":0.142},{"el":"O","nu":590,"i":0.134},{"el":"O","nu":597,"i":0.119},{"el":"O","nu":604,"i":0.126},{"el":"O","nu":611,"i":0.119},{"el":"O","nu":618,"i":0.107},{"el":"O","nu":624,"i":0.111},{"el":"O","nu":633,"i":0.088},{"el":"O","nu":640,"i":0.08},{"el":"O","nu":648,"i":0.065},{"el":"O","nu":654,"i":0.057},{"el":"O","nu":661,"i":0.054},{"el":"O","nu":675,"i":0.046},{"el":"O","nu":688,"i":0.038},{"el":"O","nu":702,"i":0.034},{"el":"O","nu":715,"i":0.033},{"el":"O","nu":729,"i":0.031},{"el":"O","nu":743,"i":0.028},{"el":"O","nu":756,"i":0.025},{"el":"O","nu":770,"i":0.023},{"el":"O","nu":783,"i":0.021},{"el":"O","nu":800,"i":0.019}
]
},
"columns": 2,
"spacing": {"row": 138, "column": 56},
"bounds": "flush",
"resolve": {"scale": {"color": "independent", "fill": "independent"}},
"concat": [
{"width": 585, "height": 434, "resolve": {"scale": {"y": "independent"}, "axis": {"x": "independent"}},
 "layer": [
 {"data": {"name": "ba"}, "mark": {"type": "bar", "clip": false, "stroke": "#8a8a8a", "strokeWidth": 1},
  "encoding": {
   "x": {"field": "nu0", "type": "quantitative", "scale": {"domain": [0, 800], "nice": false, "zero": false}, "axis": {"orient": "bottom", "values": [0,50,100,150,200,250,300,350,400,450,500,550,600,650,700,750,800], "labelExpr": "datum.value % 100 == 0 ? datum.label : ''", "grid": true, "gridColor": "#b4b4b4", "gridOpacity": {"condition": {"test": "datum.value % 100 == 0 && datum.value > 0 && datum.value < 800", "value": 1}, "value": 0}, "domainColor": "black", "domainWidth": 1.5, "tickColor": "black", "tickWidth": 1.5, "tickSize": 6, "labelFontSize": 16, "labelColor": "black", "labelPadding": 9, "labelFlush": false, "labelOverlap": false, "title": "ν [cm⁻¹]", "titleX": 301, "titleFontSize": 19, "titleFontWeight": "normal", "titleColor": "black", "titlePadding": 2}},
   "x2": {"field": "nu1"},
   "y": {"field": "n", "type": "quantitative", "scale": {"domain": [0, 20], "nice": false}, "axis": {"orient": "left", "values": [10, 20], "labels": false, "grid": false, "domainColor": "black", "domainWidth": 1.5, "tickColor": "black", "tickWidth": 1.5, "tickSize": {"condition": {"test": "datum.value == 20", "value": -10}, "value": 5}, "title": "intensity [a.u.]", "titleFontSize": 20, "titleFontWeight": "normal", "titleColor": "black", "titleX": -9, "titleY": 217, "titleAngle": 270, "titleAlign": "center", "titleBaseline": "alphabetic"}},
   "y2": {"datum": 0},
   "fill": {"datum": "(all)", "type": "nominal", "scale": {"range": ["#dedede"]}, "legend": {"orient": "none", "legendX": 365, "legendY": 39, "title": null, "symbolType": "M-23,-8.5H23V8.5H-23Z", "symbolSize": 4, "symbolStrokeColor": "#8a8a8a", "symbolStrokeWidth": 1, "symbolOffset": 15, "labelOffset": 25, "labelFontSize": 20, "labelColor": "black", "strokeColor": "#666666", "fillColor": "white", "padding": 4}}
  }},
 {"data": {"name": "la"}, "mark": {"type": "line", "clip": true, "strokeWidth": 2},
  "encoding": {
   "x": {"field": "nu", "type": "quantitative", "scale": {"domain": [0, 800], "nice": false, "zero": false}, "axis": {"orient": "top", "domain": false, "ticks": false, "labels": false, "grid": false, "title": "a)", "titleX": -25, "titleY": -37, "titleAngle": 0, "titleAlign": "left", "titleBaseline": "alphabetic", "titleFontSize": 34, "titleFontWeight": "normal", "titleColor": "black"}},
   "y": {"field": "i", "type": "quantitative", "scale": {"domain": [0, 1], "nice": false}, "axis": {"orient": "right", "values": [0.5, 1], "labels": false, "grid": false, "domainColor": "black", "domainWidth": 1.5, "tickColor": "black", "tickWidth": 1.5, "tickSize": -9, "title": "BIT25", "titleX": -279, "titleY": -3, "titleAngle": 0, "titleAlign": "center", "titleBaseline": "alphabetic", "titleFontSize": 32, "titleFontWeight": "normal", "titleColor": "black"}},
   "color": {"field": "el", "type": "nominal", "scale": {"domain": ["Ba", "In", "Ti", "O"], "range": ["#000000", "#19e619", "#0000ff", "#ff0000"]}, "legend": {"orient": "none", "legendX": 365, "legendY": 67, "title": " ", "titleFontSize": 6, "titlePadding": 3, "symbolType": "M-23,0H23", "symbolSize": 4, "symbolStrokeWidth": 2, "symbolOffset": 12, "labelOffset": 20, "labelFontSize": 20, "labelColor": "black", "strokeColor": "#666666", "fillColor": "white", "padding": 9, "rowPadding": 5}}
  }}
 ]},
{"width": 585, "height": 434, "resolve": {"scale": {"y": "independent"}, "axis": {"x": "independent"}},
 "layer": [
 {"data": {"name": "bb"}, "mark": {"type": "bar", "clip": false, "stroke": "#8a8a8a", "strokeWidth": 1},
  "encoding": {
   "x": {"field": "nu0", "type": "quantitative", "scale": {"domain": [0, 800], "nice": false, "zero": false}, "axis": {"orient": "bottom", "values": [0,50,100,150,200,250,300,350,400,450,500,550,600,650,700,750,800], "labelExpr": "datum.value % 100 == 0 ? datum.label : ''", "grid": true, "gridColor": "#b4b4b4", "gridOpacity": {"condition": {"test": "datum.value % 100 == 0 && datum.value > 0 && datum.value < 800", "value": 1}, "value": 0}, "domainColor": "black", "domainWidth": 1.5, "tickColor": "black", "tickWidth": 1.5, "tickSize": 6, "labelFontSize": 16, "labelColor": "black", "labelPadding": 9, "labelFlush": false, "labelOverlap": false, "title": "ν [cm⁻¹]", "titleX": 294, "titleFontSize": 19, "titleFontWeight": "normal", "titleColor": "black", "titlePadding": 2}},
   "x2": {"field": "nu1"},
   "y": {"field": "n", "type": "quantitative", "scale": {"domain": [0, 20], "nice": false}, "axis": {"orient": "left", "values": [10, 20], "labels": false, "grid": false, "domainColor": "black", "domainWidth": 1.5, "tickColor": "black", "tickWidth": 1.5, "tickSize": {"condition": {"test": "datum.value == 20", "value": -10}, "value": 5}, "title": "intensity [a.u.]", "titleFontSize": 20, "titleFontWeight": "normal", "titleColor": "black", "titleX": -9, "titleY": 217, "titleAngle": 270, "titleAlign": "center", "titleBaseline": "alphabetic"}},
   "y2": {"datum": 0},
   "fill": {"datum": "(all)", "type": "nominal", "scale": {"range": ["#dedede"]}, "legend": {"orient": "none", "legendX": 366, "legendY": 18, "title": null, "symbolType": "M-23,-8.5H23V8.5H-23Z", "symbolSize": 4, "symbolStrokeColor": "#8a8a8a", "symbolStrokeWidth": 1, "symbolOffset": 15, "labelOffset": 25, "labelFontSize": 20, "labelColor": "black", "strokeColor": "#666666", "fillColor": "white", "padding": 4}}
  }},
 {"data": {"name": "lb"}, "mark": {"type": "line", "clip": true, "strokeWidth": 2},
  "encoding": {
   "x": {"field": "nu", "type": "quantitative", "scale": {"domain": [0, 800], "nice": false, "zero": false}, "axis": {"orient": "top", "domain": false, "ticks": false, "labels": false, "grid": false, "title": "b)", "titleX": -32, "titleY": -37, "titleAngle": 0, "titleAlign": "left", "titleBaseline": "alphabetic", "titleFontSize": 34, "titleFontWeight": "normal", "titleColor": "black"}},
   "y": {"field": "i", "type": "quantitative", "scale": {"domain": [0, 1], "nice": false}, "axis": {"orient": "right", "values": [0.5, 1], "labels": false, "grid": false, "domainColor": "black", "domainWidth": 1.5, "tickColor": "black", "tickWidth": 1.5, "tickSize": -9, "title": "BIZ25", "titleX": -300, "titleY": -13, "titleAngle": 0, "titleAlign": "center", "titleBaseline": "alphabetic", "titleFontSize": 32, "titleFontWeight": "normal", "titleColor": "black"}},
   "color": {"field": "el", "type": "nominal", "scale": {"domain": ["Ba", "In", "Zr", "O"], "range": ["#000000", "#19e619", "#0000ff", "#ff0000"]}, "legend": {"orient": "none", "legendX": 366, "legendY": 45, "title": " ", "titleFontSize": 6, "titlePadding": 3, "symbolType": "M-23,0H23", "symbolSize": 4, "symbolStrokeWidth": 2, "symbolOffset": 12, "labelOffset": 20, "labelFontSize": 20, "labelColor": "black", "strokeColor": "#666666", "fillColor": "white", "padding": 9, "rowPadding": 5}}
  }}
 ]},
{"width": 585, "height": 434, "resolve": {"scale": {"y": "independent"}, "axis": {"x": "independent"}},
 "layer": [
 {"data": {"name": "bc"}, "mark": {"type": "bar", "clip": false, "stroke": "#8a8a8a", "strokeWidth": 1},
  "encoding": {
   "x": {"field": "nu0", "type": "quantitative", "scale": {"domain": [0, 800], "nice": false, "zero": false}, "axis": {"orient": "bottom", "values": [0,50,100,150,200,250,300,350,400,450,500,550,600,650,700,750,800], "labelExpr": "datum.value % 100 == 0 ? datum.label : ''", "grid": true, "gridColor": "#c8c8c8", "gridOpacity": {"condition": {"test": "datum.value % 100 == 0 && datum.value > 0 && datum.value < 800", "value": 1}, "value": 0}, "domainColor": "black", "domainWidth": 1.5, "tickColor": "black", "tickWidth": 1.5, "tickSize": 6, "labelFontSize": 16, "labelColor": "black", "labelPadding": 9, "labelFlush": false, "labelOverlap": false, "title": "ν [cm⁻¹]", "titleX": 301, "titleFontSize": 19, "titleFontWeight": "normal", "titleColor": "black", "titlePadding": 2}},
   "x2": {"field": "nu1"},
   "y": {"field": "n", "type": "quantitative", "scale": {"domain": [0, 20], "nice": false}, "axis": {"orient": "left", "values": [10, 20], "labels": false, "grid": false, "domainColor": "black", "domainWidth": 1.5, "tickColor": "black", "tickWidth": 1.5, "tickSize": {"condition": {"test": "datum.value == 20", "value": -10}, "value": 5}, "title": "intensity [a.u.]", "titleFontSize": 20, "titleFontWeight": "normal", "titleColor": "black", "titleX": -9, "titleY": 217, "titleAngle": 270, "titleAlign": "center", "titleBaseline": "alphabetic"}},
   "y2": {"datum": 0},
   "fill": {"datum": "(all)", "type": "nominal", "scale": {"range": ["#dedede"]}, "legend": {"orient": "none", "legendX": 364, "legendY": 37, "title": null, "symbolType": "M-23,-8.5H23V8.5H-23Z", "symbolSize": 4, "symbolStrokeColor": "#8a8a8a", "symbolStrokeWidth": 1, "symbolOffset": 15, "labelOffset": 25, "labelFontSize": 20, "labelColor": "black", "strokeColor": "#666666", "fillColor": "white", "padding": 4}}
  }},
 {"data": {"name": "lc"}, "mark": {"type": "line", "clip": true, "strokeWidth": 2},
  "encoding": {
   "x": {"field": "nu", "type": "quantitative", "scale": {"domain": [0, 800], "nice": false, "zero": false}, "axis": {"orient": "top", "domain": false, "ticks": false, "labels": false, "grid": false, "title": "c)", "titleX": -37, "titleY": -37, "titleAngle": 0, "titleAlign": "left", "titleBaseline": "alphabetic", "titleFontSize": 34, "titleFontWeight": "normal", "titleColor": "black"}},
   "y": {"field": "i", "type": "quantitative", "scale": {"domain": [0, 1], "nice": false}, "axis": {"orient": "right", "values": [0.5, 1], "labels": false, "grid": false, "domainColor": "black", "domainWidth": 1.5, "tickColor": "black", "tickWidth": 1.5, "tickSize": -9, "title": "SIT25", "titleX": -288, "titleY": -13, "titleAngle": 0, "titleAlign": "center", "titleBaseline": "alphabetic", "titleFontSize": 32, "titleFontWeight": "normal", "titleColor": "black"}},
   "color": {"field": "el", "type": "nominal", "scale": {"domain": ["Sr", "In", "Ti", "O"], "range": ["#000000", "#19e619", "#0000ff", "#ff0000"]}, "legend": {"orient": "none", "legendX": 364, "legendY": 64, "title": " ", "titleFontSize": 6, "titlePadding": 3, "symbolType": "M-23,0H23", "symbolSize": 4, "symbolStrokeWidth": 2, "symbolOffset": 12, "labelOffset": 20, "labelFontSize": 20, "labelColor": "black", "strokeColor": "#666666", "fillColor": "white", "padding": 9, "rowPadding": 5}}
  }}
 ]},
{"width": 585, "height": 434, "resolve": {"scale": {"y": "independent"}, "axis": {"x": "independent"}},
 "layer": [
 {"data": {"name": "bd"}, "mark": {"type": "bar", "clip": false, "stroke": "#8a8a8a", "strokeWidth": 1},
  "encoding": {
   "x": {"field": "nu0", "type": "quantitative", "scale": {"domain": [0, 800], "nice": false, "zero": false}, "axis": {"orient": "bottom", "values": [0,50,100,150,200,250,300,350,400,450,500,550,600,650,700,750,800], "labelExpr": "datum.value % 100 == 0 ? datum.label : ''", "grid": true, "gridColor": "#b4b4b4", "gridOpacity": {"condition": {"test": "datum.value % 100 == 0 && datum.value > 0 && datum.value < 800", "value": 1}, "value": 0}, "domainColor": "black", "domainWidth": 1.5, "tickColor": "black", "tickWidth": 1.5, "tickSize": 6, "labelFontSize": 16, "labelColor": "black", "labelPadding": 9, "labelFlush": false, "labelOverlap": false, "title": "ν [cm⁻¹]", "titleX": 295, "titleFontSize": 19, "titleFontWeight": "normal", "titleColor": "black", "titlePadding": 2}},
   "x2": {"field": "nu1"},
   "y": {"field": "n", "type": "quantitative", "scale": {"domain": [0, 20], "nice": false}, "axis": {"orient": "left", "values": [10, 20], "labels": false, "grid": false, "domainColor": "black", "domainWidth": 1.5, "tickColor": "black", "tickWidth": 1.5, "tickSize": {"condition": {"test": "datum.value == 20", "value": -10}, "value": 5}, "title": "intensity [a.u.]", "titleFontSize": 20, "titleFontWeight": "normal", "titleColor": "black", "titleX": -9, "titleY": 217, "titleAngle": 270, "titleAlign": "center", "titleBaseline": "alphabetic"}},
   "y2": {"datum": 0},
   "fill": {"datum": "(all)", "type": "nominal", "scale": {"range": ["#dedede"]}, "legend": {"orient": "none", "legendX": 369, "legendY": 39, "title": null, "symbolType": "M-23,-8.5H23V8.5H-23Z", "symbolSize": 4, "symbolStrokeColor": "#8a8a8a", "symbolStrokeWidth": 1, "symbolOffset": 15, "labelOffset": 25, "labelFontSize": 20, "labelColor": "black", "strokeColor": "#666666", "fillColor": "white", "padding": 4}}
  }},
 {"data": {"name": "ld"}, "mark": {"type": "line", "clip": true, "strokeWidth": 2},
  "encoding": {
   "x": {"field": "nu", "type": "quantitative", "scale": {"domain": [0, 800], "nice": false, "zero": false}, "axis": {"orient": "top", "domain": false, "ticks": false, "labels": false, "grid": false, "title": "d)", "titleX": -33, "titleY": -37, "titleAngle": 0, "titleAlign": "left", "titleBaseline": "alphabetic", "titleFontSize": 34, "titleFontWeight": "normal", "titleColor": "black"}},
   "y": {"field": "i", "type": "quantitative", "scale": {"domain": [0, 1], "nice": false}, "axis": {"orient": "right", "values": [0.5, 1], "labels": false, "grid": false, "domainColor": "black", "domainWidth": 1.5, "tickColor": "black", "tickWidth": 1.5, "tickSize": -9, "title": "BIY25", "titleX": -273, "titleY": -10, "titleAngle": 0, "titleAlign": "center", "titleBaseline": "alphabetic", "titleFontSize": 32, "titleFontWeight": "normal", "titleColor": "black"}},
   "color": {"field": "el", "type": "nominal", "scale": {"domain": ["Ba", "In", "Y", "O"], "range": ["#000000", "#19e619", "#0000ff", "#ff0000"]}, "legend": {"orient": "none", "legendX": 371, "legendY": 68, "title": " ", "titleFontSize": 6, "titlePadding": 3, "symbolType": "M-23,0H23", "symbolSize": 4, "symbolStrokeWidth": 2, "symbolOffset": 12, "labelOffset": 20, "labelFontSize": 20, "labelColor": "black", "strokeColor": "#666666", "fillColor": "white", "padding": 9, "rowPadding": 5}}
  }}
 ]}
]
}
